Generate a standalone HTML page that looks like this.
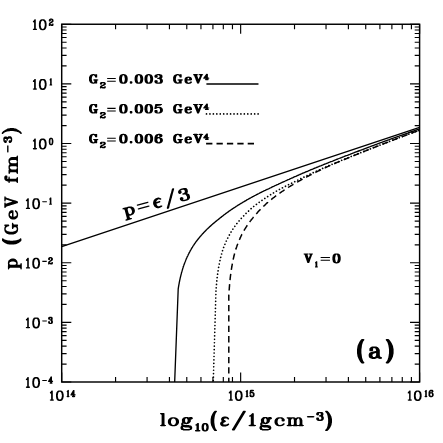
<!DOCTYPE html><html><head><meta charset="utf-8"><title>plot</title><style>html,body{margin:0;padding:0;background:#fff}svg{display:block}</style></head><body>
<svg width="443" height="443" viewBox="0 0 443 443">
<rect width="443" height="443" fill="#fff"/>
<rect x="61.7" y="24.25" width="357.90" height="357.75" fill="none" stroke="#000" stroke-width="1.45"/>
<path d="M61.7 382.00h9.6M419.6 382.00h-9.6M61.7 364.05h4.9M419.6 364.05h-4.9M61.7 353.55h4.9M419.6 353.55h-4.9M61.7 346.10h4.9M419.6 346.10h-4.9M61.7 340.32h4.9M419.6 340.32h-4.9M61.7 335.60h4.9M419.6 335.60h-4.9M61.7 331.61h4.9M419.6 331.61h-4.9M61.7 328.15h4.9M419.6 328.15h-4.9M61.7 325.10h4.9M419.6 325.10h-4.9M61.7 322.38h9.6M419.6 322.38h-9.6M61.7 304.43h4.9M419.6 304.43h-4.9M61.7 293.93h4.9M419.6 293.93h-4.9M61.7 286.48h4.9M419.6 286.48h-4.9M61.7 280.70h4.9M419.6 280.70h-4.9M61.7 275.98h4.9M419.6 275.98h-4.9M61.7 271.99h4.9M419.6 271.99h-4.9M61.7 268.53h4.9M419.6 268.53h-4.9M61.7 265.48h4.9M419.6 265.48h-4.9M61.7 262.75h9.6M419.6 262.75h-9.6M61.7 244.80h4.9M419.6 244.80h-4.9M61.7 234.30h4.9M419.6 234.30h-4.9M61.7 226.85h4.9M419.6 226.85h-4.9M61.7 221.07h4.9M419.6 221.07h-4.9M61.7 216.35h4.9M419.6 216.35h-4.9M61.7 212.36h4.9M419.6 212.36h-4.9M61.7 208.90h4.9M419.6 208.90h-4.9M61.7 205.85h4.9M419.6 205.85h-4.9M61.7 203.12h9.6M419.6 203.12h-9.6M61.7 185.18h4.9M419.6 185.18h-4.9M61.7 174.68h4.9M419.6 174.68h-4.9M61.7 167.23h4.9M419.6 167.23h-4.9M61.7 161.45h4.9M419.6 161.45h-4.9M61.7 156.73h4.9M419.6 156.73h-4.9M61.7 152.74h4.9M419.6 152.74h-4.9M61.7 149.28h4.9M419.6 149.28h-4.9M61.7 146.23h4.9M419.6 146.23h-4.9M61.7 143.50h9.6M419.6 143.50h-9.6M61.7 125.55h4.9M419.6 125.55h-4.9M61.7 115.05h4.9M419.6 115.05h-4.9M61.7 107.60h4.9M419.6 107.60h-4.9M61.7 101.82h4.9M419.6 101.82h-4.9M61.7 97.10h4.9M419.6 97.10h-4.9M61.7 93.11h4.9M419.6 93.11h-4.9M61.7 89.65h4.9M419.6 89.65h-4.9M61.7 86.60h4.9M419.6 86.60h-4.9M61.7 83.88h9.6M419.6 83.88h-9.6M61.7 65.93h4.9M419.6 65.93h-4.9M61.7 55.43h4.9M419.6 55.43h-4.9M61.7 47.98h4.9M419.6 47.98h-4.9M61.7 42.20h4.9M419.6 42.20h-4.9M61.7 37.48h4.9M419.6 37.48h-4.9M61.7 33.49h4.9M419.6 33.49h-4.9M61.7 30.03h4.9M419.6 30.03h-4.9M61.7 26.98h4.9M419.6 26.98h-4.9M61.7 24.25h9.6M419.6 24.25h-9.6M61.70 24.25v9.6M61.70 382.0v-9.6M115.57 24.25v4.9M115.57 382.0v-4.9M147.08 24.25v4.9M147.08 382.0v-4.9M169.44 24.25v4.9M169.44 382.0v-4.9M186.78 24.25v4.9M186.78 382.0v-4.9M200.95 24.25v4.9M200.95 382.0v-4.9M212.93 24.25v4.9M212.93 382.0v-4.9M223.31 24.25v4.9M223.31 382.0v-4.9M232.46 24.25v4.9M232.46 382.0v-4.9M240.65 24.25v9.6M240.65 382.0v-9.6M294.52 24.25v4.9M294.52 382.0v-4.9M326.03 24.25v4.9M326.03 382.0v-4.9M348.39 24.25v4.9M348.39 382.0v-4.9M365.73 24.25v4.9M365.73 382.0v-4.9M379.90 24.25v4.9M379.90 382.0v-4.9M391.88 24.25v4.9M391.88 382.0v-4.9M402.26 24.25v4.9M402.26 382.0v-4.9M411.41 24.25v4.9M411.41 382.0v-4.9M419.60 24.25v9.6M419.60 382.0v-9.6" stroke="#000" stroke-width="1.15" fill="none"/>
<clipPath id="c"><rect x="61.7" y="24.25" width="357.90" height="357.75"/></clipPath>
<g clip-path="url(#c)" fill="none" stroke="#000" stroke-width="1.35" stroke-linejoin="round">
<path d="M61.70 246.54L419.60 127.29"/>
<path d="M174.6 384.0L178.2 289.0L178.3 288.5L178.3 288.4L178.3 288.3L178.3 288.2L178.3 288.1L178.4 288.0L178.4 287.9L178.4 287.7L178.4 287.6L178.4 287.5L178.5 287.3L178.5 287.1L178.5 287.0L178.5 286.8L178.6 286.6L178.6 286.4L178.6 286.2L178.7 286.0L178.7 285.8L178.7 285.6L178.8 285.3L178.8 285.1L178.9 284.9L178.9 284.6L179.0 284.3L179.0 284.1L179.1 283.8L179.1 283.5L179.2 283.2L179.2 282.9L179.3 282.6L179.3 282.3L179.4 282.0L179.5 281.7L179.5 281.3L179.6 281.0L179.7 280.7L179.7 280.3L179.8 279.9L179.9 279.6L180.0 279.2L180.1 278.9L180.1 278.5L180.2 278.1L180.3 277.7L180.4 277.3L180.5 276.9L180.6 276.5L180.7 276.1L180.8 275.7L180.9 275.3L181.0 274.9L181.1 274.5L181.2 274.1L181.3 273.7L181.4 273.2L181.5 272.8L181.6 272.4L181.8 272.0L181.9 271.5L182.0 271.1L182.1 270.6L182.3 270.2L182.4 269.8L182.5 269.3L182.7 268.9L182.8 268.4L182.9 268.0L183.1 267.5L183.2 267.1L183.4 266.6L183.5 266.2L183.7 265.7L183.8 265.3L184.0 264.8L184.2 264.4L184.3 263.9L184.5 263.4L184.7 263.0L184.8 262.5L185.0 262.1L185.2 261.6L185.4 261.2L185.6 260.7L185.7 260.2L185.9 259.8L186.1 259.3L186.3 258.9L186.5 258.4L186.7 257.9L186.9 257.5L187.1 257.0L187.3 256.6L187.6 256.1L187.8 255.7L188.0 255.2L188.2 254.7L188.4 254.3L188.7 253.8L188.9 253.4L189.1 252.9L189.4 252.5L189.6 252.0L189.9 251.6L190.1 251.1L190.3 250.7L190.6 250.2L190.9 249.8L191.1 249.3L191.4 248.9L191.6 248.4L191.9 248.0L192.2 247.5L192.5 247.1L192.7 246.6L193.0 246.2L193.3 245.7L193.6 245.3L193.9 244.8L194.2 244.4L194.5 244.0L194.8 243.5L195.1 243.1L195.4 242.7L195.7 242.2L196.0 241.8L196.3 241.4L196.6 241.0L197.0 240.5L197.3 240.1L197.6 239.7L198.0 239.3L198.3 238.8L198.6 238.4L199.0 238.0L199.3 237.6L199.7 237.2L200.0 236.7L200.4 236.3L200.8 235.9L201.1 235.5L201.5 235.1L201.9 234.6L202.2 234.2L202.6 233.8L203.0 233.4L203.4 233.0L203.8 232.6L204.2 232.1L204.6 231.7L205.0 231.3L205.4 230.9L205.8 230.5L206.2 230.1L206.6 229.7L207.0 229.2L207.5 228.8L207.9 228.4L208.3 228.0L208.8 227.6L209.2 227.2L209.6 226.8L210.1 226.4L210.5 226.0L211.0 225.6L211.4 225.1L211.9 224.7L212.4 224.3L212.8 223.9L213.3 223.5L213.8 223.1L214.3 222.7L214.8 222.3L215.2 221.9L215.7 221.5L216.2 221.1L216.7 220.7L217.2 220.3L217.7 219.9L218.3 219.5L218.8 219.1L219.3 218.6L219.8 218.2L220.3 217.8L220.9 217.4L221.4 216.9L221.9 216.5L222.5 216.1L223.0 215.7L223.6 215.2L224.1 214.8L224.7 214.4L225.3 214.0L225.8 213.5L226.4 213.1L227.0 212.7L227.6 212.3L228.2 211.9L228.7 211.4L229.3 211.0L229.9 210.6L230.5 210.2L231.1 209.8L231.7 209.4L232.4 208.9L233.0 208.5L233.6 208.1L234.2 207.7L234.9 207.3L235.5 206.9L236.1 206.4L236.8 206.0L237.4 205.6L238.1 205.2L238.7 204.8L239.4 204.4L240.0 204.0L240.7 203.6L241.4 203.2L242.1 202.8L242.7 202.4L243.4 202.0L244.1 201.6L244.8 201.2L245.5 200.8L246.2 200.4L246.9 199.9L247.6 199.5L248.4 199.1L249.1 198.7L249.8 198.3L250.5 197.9L251.3 197.5L252.0 197.1L252.7 196.7L253.5 196.3L254.2 195.9L255.0 195.5L255.8 195.1L256.5 194.7L257.3 194.3L258.1 193.9L258.9 193.5L259.6 193.1L260.4 192.7L261.2 192.3L262.0 191.9L262.8 191.5L263.6 191.1L264.4 190.7L265.3 190.3L266.1 189.9L266.9 189.5L267.7 189.2L268.6 188.8L269.4 188.4L270.2 188.0L271.1 187.6L271.9 187.1L272.8 186.7L273.7 186.3L274.5 185.9L275.4 185.5L276.3 185.1L277.2 184.7L278.1 184.3L278.9 183.9L279.8 183.5L280.7 183.1L281.6 182.7L282.6 182.2L283.5 181.8L284.4 181.4L285.3 181.0L286.2 180.5L287.2 180.1L288.1 179.7L289.1 179.3L290.0 178.8L291.0 178.4L291.9 178.0L292.9 177.6L293.8 177.1L294.8 176.7L295.8 176.3L296.8 175.8L297.8 175.4L298.8 175.0L299.8 174.5L300.8 174.1L301.8 173.7L302.8 173.2L303.8 172.8L304.8 172.4L305.8 171.9L306.9 171.5L307.9 171.1L309.0 170.6L310.0 170.2L311.1 169.7L312.1 169.3L313.2 168.9L314.2 168.4L315.3 168.0L316.4 167.5L317.5 167.1L318.6 166.7L319.6 166.2L320.7 165.8L321.8 165.3L323.0 164.9L324.1 164.4L325.2 164.0L326.3 163.5L327.4 163.1L328.6 162.6L329.7 162.2L330.9 161.7L332.0 161.3L333.2 160.8L334.3 160.3L335.5 159.9L336.6 159.4L337.8 159.0L339.0 158.5L340.2 158.0L341.4 157.6L342.6 157.1L343.8 156.7L345.0 156.2L346.2 155.7L347.4 155.3L348.6 154.8L349.9 154.3L351.1 153.8L352.3 153.4L353.6 152.9L354.8 152.4L356.1 151.9L357.3 151.5L358.6 151.0L359.9 150.5L361.1 150.0L362.4 149.6L363.7 149.1L365.0 148.6L366.3 148.1L367.6 147.6L368.9 147.1L370.2 146.7L371.5 146.2L372.8 145.7L374.2 145.2L375.5 144.7L376.9 144.2L378.2 143.7L379.5 143.2L380.9 142.7L382.3 142.2L383.6 141.7L385.0 141.2L386.4 140.7L387.8 140.2L389.2 139.7L390.5 139.2L391.9 138.7L393.4 138.2L394.8 137.7L396.2 137.2L397.6 136.7L399.0 136.2L400.5 135.6L401.9 135.1L403.3 134.6L404.8 134.1L406.2 133.6L407.7 133.1L409.2 132.5L410.6 132.0L412.1 131.5L413.6 131.0L415.1 130.4L416.6 129.9L418.1 129.4L419.6 128.8"/>
<path d="M213.2 384.0L216.0 290.0L216.0 289.4L216.0 289.3L216.1 289.2L216.1 289.1L216.1 288.9L216.1 288.8L216.1 288.6L216.1 288.4L216.1 288.3L216.1 288.1L216.2 287.8L216.2 287.6L216.2 287.4L216.2 287.1L216.2 286.9L216.3 286.6L216.3 286.3L216.3 286.0L216.3 285.7L216.4 285.4L216.4 285.0L216.4 284.7L216.5 284.4L216.5 284.0L216.5 283.6L216.6 283.2L216.6 282.8L216.6 282.4L216.7 282.0L216.7 281.6L216.8 281.2L216.8 280.7L216.9 280.3L216.9 279.8L217.0 279.4L217.0 278.9L217.1 278.4L217.1 277.9L217.2 277.5L217.2 277.0L217.3 276.5L217.4 276.0L217.4 275.5L217.5 274.9L217.6 274.4L217.6 273.9L217.7 273.4L217.8 272.9L217.8 272.3L217.9 271.8L218.0 271.3L218.1 270.7L218.2 270.2L218.3 269.7L218.3 269.1L218.4 268.6L218.5 268.0L218.6 267.5L218.7 266.9L218.8 266.4L218.9 265.9L219.0 265.3L219.1 264.8L219.2 264.2L219.3 263.7L219.4 263.1L219.5 262.6L219.6 262.0L219.8 261.5L219.9 260.9L220.0 260.4L220.1 259.8L220.2 259.3L220.4 258.8L220.5 258.2L220.6 257.7L220.8 257.1L220.9 256.6L221.0 256.1L221.2 255.5L221.3 255.0L221.5 254.5L221.6 253.9L221.7 253.4L221.9 252.9L222.0 252.4L222.2 251.8L222.4 251.3L222.5 250.8L222.7 250.3L222.9 249.8L223.0 249.3L223.2 248.8L223.4 248.3L223.5 247.8L223.7 247.3L223.9 246.9L224.1 246.4L224.3 245.9L224.4 245.4L224.6 244.9L224.8 244.5L225.0 244.0L225.2 243.5L225.4 243.0L225.6 242.6L225.8 242.1L226.0 241.6L226.2 241.2L226.5 240.7L226.7 240.2L226.9 239.8L227.1 239.3L227.3 238.8L227.6 238.4L227.8 237.9L228.0 237.5L228.3 237.0L228.5 236.6L228.7 236.1L229.0 235.7L229.2 235.2L229.5 234.8L229.7 234.3L230.0 233.9L230.2 233.4L230.5 233.0L230.8 232.5L231.0 232.1L231.3 231.7L231.6 231.2L231.8 230.8L232.1 230.3L232.4 229.9L232.7 229.5L233.0 229.0L233.2 228.6L233.5 228.2L233.8 227.8L234.1 227.3L234.4 226.9L234.7 226.5L235.0 226.1L235.3 225.6L235.7 225.2L236.0 224.8L236.3 224.4L236.6 224.0L236.9 223.5L237.3 223.1L237.6 222.7L237.9 222.3L238.3 221.9L238.6 221.5L238.9 221.1L239.3 220.6L239.6 220.2L240.0 219.8L240.3 219.4L240.7 219.0L241.0 218.6L241.4 218.2L241.8 217.8L242.1 217.4L242.5 217.0L242.9 216.6L243.3 216.2L243.7 215.8L244.0 215.4L244.4 215.0L244.8 214.6L245.2 214.2L245.6 213.8L246.0 213.4L246.4 213.0L246.8 212.6L247.2 212.2L247.7 211.8L248.1 211.4L248.5 211.1L248.9 210.7L249.4 210.3L249.8 209.9L250.2 209.5L250.7 209.1L251.1 208.7L251.5 208.3L252.0 208.0L252.4 207.6L252.9 207.2L253.4 206.8L253.8 206.4L254.3 206.0L254.8 205.7L255.2 205.3L255.7 204.9L256.2 204.6L256.7 204.2L257.1 203.8L257.6 203.5L258.1 203.1L258.6 202.8L259.1 202.4L259.6 202.0L260.1 201.7L260.6 201.3L261.2 201.0L261.7 200.6L262.2 200.2L262.7 199.9L263.2 199.5L263.8 199.1L264.3 198.8L264.9 198.4L265.4 198.1L265.9 197.7L266.5 197.3L267.0 197.0L267.6 196.6L268.2 196.3L268.7 195.9L269.3 195.5L269.9 195.2L270.4 194.8L271.0 194.5L271.6 194.1L272.2 193.7L272.8 193.4L273.4 193.0L274.0 192.6L274.6 192.3L275.2 191.9L275.8 191.6L276.4 191.2L277.0 190.8L277.6 190.5L278.2 190.1L278.9 189.7L279.5 189.4L280.1 189.0L280.8 188.7L281.4 188.4L282.1 188.0L282.7 187.7L283.4 187.4L284.0 187.0L284.7 186.7L285.4 186.3L286.0 186.0L286.7 185.7L287.4 185.3L288.1 185.0L288.7 184.6L289.4 184.3L290.1 183.9L290.8 183.6L291.5 183.3L292.2 182.9L292.9 182.6L293.6 182.2L294.3 181.9L295.1 181.5L295.8 181.1L296.5 180.8L297.3 180.4L298.0 180.0L298.7 179.7L299.5 179.3L300.2 178.9L301.0 178.5L301.7 178.2L302.5 177.8L303.2 177.4L304.0 177.1L304.8 176.7L305.6 176.3L306.3 175.9L307.1 175.6L307.9 175.2L308.7 174.8L309.5 174.4L310.3 174.1L311.1 173.7L311.9 173.3L312.7 172.9L313.5 172.5L314.4 172.2L315.2 171.8L316.0 171.4L316.8 171.0L317.7 170.6L318.5 170.3L319.4 169.9L320.2 169.5L321.1 169.1L321.9 168.7L322.8 168.3L323.7 167.9L324.5 167.6L325.4 167.2L326.3 166.8L327.2 166.4L328.0 166.0L328.9 165.6L329.8 165.2L330.7 164.8L331.6 164.5L332.5 164.1L333.5 163.7L334.4 163.3L335.3 162.9L336.2 162.6L337.2 162.2L338.1 161.8L339.0 161.4L340.0 161.0L340.9 160.6L341.9 160.2L342.8 159.8L343.8 159.5L344.7 159.1L345.7 158.7L346.7 158.3L347.7 157.9L348.6 157.5L349.6 157.1L350.6 156.7L351.6 156.3L352.6 155.9L353.6 155.5L354.6 155.1L355.6 154.7L356.7 154.3L357.7 153.9L358.7 153.5L359.7 153.1L360.8 152.6L361.8 152.2L362.9 151.8L363.9 151.4L365.0 151.0L366.0 150.6L367.1 150.2L368.1 149.7L369.2 149.3L370.3 148.9L371.4 148.5L372.5 148.0L373.5 147.6L374.6 147.2L375.7 146.7L376.8 146.3L377.9 145.9L379.1 145.4L380.2 145.0L381.3 144.6L382.4 144.1L383.5 143.7L384.7 143.3L385.8 142.8L387.0 142.4L388.1 141.9L389.3 141.5L390.4 141.0L391.6 140.6L392.7 140.2L393.9 139.7L395.1 139.3L396.3 138.8L397.5 138.4L398.7 137.9L399.8 137.5L401.0 137.0L402.2 136.6L403.5 136.1L404.7 135.7L405.9 135.2L407.1 134.8L408.3 134.3L409.6 133.8L410.8 133.4L412.1 132.9L413.3 132.5L414.5 132.0L415.8 131.5L417.1 131.1L418.3 130.6L419.6 130.1" stroke-width="1.7" stroke-linecap="round" stroke-dasharray="0.01 3.43"/>
<path d="M228.8 384.0L228.8 295.0L228.9 294.4L228.9 294.3L228.9 294.2L228.9 294.1L228.9 293.9L228.9 293.8L228.9 293.6L228.9 293.4L229.0 293.2L229.0 293.0L229.0 292.7L229.0 292.5L229.0 292.2L229.0 292.0L229.1 291.7L229.1 291.4L229.1 291.0L229.1 290.7L229.1 290.4L229.2 290.0L229.2 289.6L229.2 289.3L229.3 288.9L229.3 288.5L229.3 288.0L229.3 287.6L229.4 287.2L229.4 286.7L229.5 286.3L229.5 285.8L229.5 285.3L229.6 284.8L229.6 284.4L229.7 283.9L229.7 283.3L229.8 282.8L229.8 282.3L229.9 281.8L229.9 281.3L230.0 280.7L230.0 280.2L230.1 279.6L230.1 279.1L230.2 278.5L230.2 278.0L230.3 277.4L230.4 276.8L230.4 276.3L230.5 275.7L230.6 275.1L230.7 274.5L230.7 274.0L230.8 273.4L230.9 272.8L231.0 272.2L231.0 271.6L231.1 271.0L231.2 270.5L231.3 269.9L231.4 269.3L231.5 268.7L231.6 268.1L231.7 267.5L231.8 267.0L231.9 266.4L232.0 265.8L232.1 265.2L232.2 264.6L232.3 264.1L232.4 263.5L232.5 262.9L232.6 262.3L232.7 261.8L232.8 261.2L232.9 260.6L233.1 260.1L233.2 259.5L233.3 258.9L233.4 258.4L233.6 257.8L233.7 257.2L233.8 256.7L234.0 256.1L234.1 255.6L234.2 255.0L234.4 254.5L234.5 253.9L234.7 253.4L234.8 252.8L235.0 252.3L235.1 251.8L235.3 251.2L235.4 250.7L235.6 250.2L235.7 249.6L235.9 249.1L236.1 248.6L236.2 248.1L236.4 247.6L236.6 247.0L236.8 246.5L236.9 246.0L237.1 245.5L237.3 245.0L237.5 244.5L237.7 244.0L237.9 243.5L238.1 243.0L238.3 242.5L238.5 242.0L238.6 241.5L238.9 241.0L239.1 240.5L239.3 240.0L239.5 239.5L239.7 239.1L239.9 238.6L240.1 238.1L240.3 237.6L240.6 237.1L240.8 236.7L241.0 236.2L241.2 235.7L241.5 235.3L241.7 234.8L241.9 234.3L242.2 233.9L242.4 233.4L242.7 232.9L242.9 232.5L243.2 232.0L243.4 231.6L243.7 231.1L243.9 230.7L244.2 230.2L244.5 229.8L244.7 229.3L245.0 228.9L245.3 228.4L245.6 228.0L245.8 227.5L246.1 227.1L246.4 226.7L246.7 226.2L247.0 225.8L247.3 225.3L247.6 224.9L247.9 224.5L248.2 224.0L248.5 223.6L248.8 223.2L249.1 222.8L249.4 222.3L249.7 221.9L250.0 221.5L250.3 221.1L250.7 220.6L251.0 220.2L251.3 219.8L251.6 219.4L252.0 219.0L252.3 218.6L252.7 218.1L253.0 217.7L253.3 217.3L253.7 216.9L254.0 216.5L254.4 216.1L254.8 215.7L255.1 215.3L255.5 214.8L255.9 214.4L256.2 213.9L256.6 213.5L257.0 213.1L257.4 212.7L257.7 212.2L258.1 211.8L258.5 211.4L258.9 210.9L259.3 210.5L259.7 210.1L260.1 209.7L260.5 209.3L260.9 208.9L261.3 208.4L261.7 208.0L262.2 207.6L262.6 207.2L263.0 206.8L263.4 206.4L263.8 206.0L264.3 205.6L264.7 205.2L265.2 204.8L265.6 204.4L266.0 203.9L266.5 203.5L266.9 203.1L267.4 202.7L267.9 202.4L268.3 202.0L268.8 201.6L269.3 201.2L269.7 200.8L270.2 200.4L270.7 200.0L271.2 199.6L271.6 199.2L272.1 198.8L272.6 198.4L273.1 198.0L273.6 197.6L274.1 197.3L274.6 196.9L275.1 196.5L275.6 196.1L276.2 195.7L276.7 195.3L277.2 194.9L277.7 194.6L278.2 194.2L278.8 193.8L279.3 193.4L279.9 193.0L280.4 192.7L280.9 192.3L281.5 191.9L282.0 191.5L282.6 191.1L283.2 190.8L283.7 190.4L284.3 190.0L284.9 189.6L285.4 189.3L286.0 188.9L286.6 188.5L287.2 188.1L287.8 187.8L288.3 187.4L288.9 187.0L289.5 186.6L290.1 186.3L290.7 185.9L291.4 185.5L292.0 185.2L292.6 184.8L293.2 184.4L293.8 184.1L294.5 183.7L295.1 183.3L295.7 183.0L296.4 182.6L297.0 182.2L297.6 181.9L298.3 181.5L298.9 181.1L299.6 180.8L300.3 180.4L300.9 180.0L301.6 179.6L302.3 179.3L302.9 178.9L303.6 178.5L304.3 178.2L305.0 177.8L305.7 177.4L306.4 177.1L307.1 176.7L307.8 176.3L308.5 176.0L309.2 175.6L309.9 175.2L310.6 174.9L311.3 174.5L312.0 174.1L312.8 173.8L313.5 173.4L314.2 173.0L315.0 172.7L315.7 172.3L316.4 171.9L317.2 171.6L317.9 171.2L318.7 170.8L319.5 170.5L320.2 170.1L321.0 169.7L321.8 169.3L322.5 169.0L323.3 168.6L324.1 168.2L324.9 167.9L325.7 167.5L326.5 167.1L327.3 166.7L328.1 166.4L328.9 166.0L329.7 165.6L330.5 165.3L331.3 164.9L332.2 164.6L333.0 164.2L333.8 163.9L334.7 163.5L335.5 163.2L336.3 162.8L337.2 162.4L338.0 162.1L338.9 161.7L339.8 161.4L340.6 161.0L341.5 160.6L342.4 160.3L343.2 159.9L344.1 159.6L345.0 159.2L345.9 158.8L346.8 158.5L347.7 158.1L348.6 157.7L349.5 157.4L350.4 157.0L351.3 156.6L352.2 156.2L353.1 155.9L354.1 155.5L355.0 155.1L355.9 154.7L356.8 154.4L357.8 154.0L358.7 153.6L359.7 153.2L360.6 152.8L361.6 152.5L362.6 152.1L363.5 151.7L364.5 151.3L365.5 150.9L366.4 150.5L367.4 150.1L368.4 149.7L369.4 149.3L370.4 149.0L371.4 148.6L372.4 148.2L373.4 147.8L374.4 147.4L375.4 147.0L376.4 146.5L377.5 146.1L378.5 145.7L379.5 145.3L380.6 144.9L381.6 144.5L382.7 144.1L383.7 143.7L384.8 143.3L385.8 142.9L386.9 142.5L388.0 142.1L389.0 141.7L390.1 141.2L391.2 140.8L392.3 140.4L393.4 140.0L394.4 139.6L395.5 139.2L396.6 138.7L397.7 138.3L398.9 137.9L400.0 137.5L401.1 137.1L402.2 136.6L403.3 136.2L404.5 135.8L405.6 135.4L406.8 134.9L407.9 134.5L409.1 134.1L410.2 133.6L411.4 133.2L412.5 132.8L413.7 132.3L414.9 131.9L416.0 131.5L417.2 131.0L418.4 130.6L419.6 130.2" stroke-width="1.5" stroke-dasharray="6.3 4.1"/>
</g>
<path d="M206.9 84H258" stroke="#000" stroke-width="1.4" stroke-linecap="round"/>
<path d="M206.5 113.9H258.5" stroke="#000" stroke-width="1.7" stroke-linecap="round" stroke-dasharray="0.01 3.43"/>
<path d="M206.1 143.6H254.2" stroke="#000" stroke-width="1.55" stroke-dasharray="6.3 4.1"/>
<path d="M91 74.5 89.8 75.5 89.7 76.0 89.5 76.2 89 77.3 89 80.5 89.5 81.6 89.7 81.8 89.8 82.3 91 83.3 92 83.6 92.5 83.6 92.5 83.7 94.2 83.7 94.3 83.6 94.8 83.6 95.2 83.4 95.5 83.6 96 83.6 96 83.7 96.2 83.6 96.8 83.6 97 83.4 97.2 83.2 97.2 80.8 97.3 80.5 98 80.4 98.2 80.2 98.3 80.0 98.2 79.6 98 79.4 97.5 79.4 97.3 79.3 94 79.3 94 79.4 93.5 79.4 93.2 79.6 93.2 80.2 93.5 80.4 93.8 80.4 94.2 80.6 94.3 81.0 94.3 82.0 93.7 82.5 93.2 82.5 92.5 81.9 92.2 81.3 92.2 81.0 91.8 79.8 91.8 78.0 92.2 76.8 92.2 76.5 92.5 75.9 93.2 75.3 93.7 75.3 94 75.5 94.8 76.3 95.2 77.4 95.5 77.6 96 77.6 96.2 77.7 96.2 77.6 96.8 77.6 97 77.4 97.2 77.2 97.2 74.6 97 74.4 96.8 74.2 96.2 74.2 96.2 74.1 96 74.2 95.5 74.2 95.2 74.4 94.8 74.2 94.3 74.2 94.2 74.1 92.5 74.1 92.5 74.2 92 74.2ZM100.6 82.3 99.9 83.1 99.9 84.2 100.3 84.5 101.2 84.7 101.3 84.6 101.6 84.6 102.1 84.3 102.4 84.0 102.4 83.4 102.2 83.2 102.3 83.1 103.3 83.1 103.6 83.6 103.6 83.9 103.4 84.2 102.8 84.7 100.9 85.5 100.1 86.2 100.1 86.4 99.9 86.7 99.9 88.3 100.6 88.6 101.2 88.4 101.4 88.1 101.6 88.0 102.5 88.5 102.8 88.5 102.9 88.6 104.5 88.6 105.1 88.4 105.8 87.6 105.8 86.5 105.4 86.2 104.6 86.2 104.3 86.4 104.3 86.8 104 87.0 102.2 86.8 101.8 86.6 102.4 86.2 104.1 85.7 105.2 85.1 105.8 84.4 105.8 83.2 105.7 83.0 105 82.3 104.2 82.0 101.4 82.0ZM107.1 80.9 107.1 81.5 107.3 81.7 107.7 81.7 107.8 81.8 115.1 81.8 115.2 81.7 115.6 81.7 115.8 81.5 115.8 80.9 115.6 80.7 107.3 80.7ZM107.1 78.2 107.1 78.8 107.3 79.0 107.7 79.0 107.8 79.1 115.1 79.1 115.2 79.0 115.6 79.0 115.8 78.8 115.8 78.2 115.6 78.0 107.3 78.0ZM120.9 74.5 120.1 75.2 119.5 76.0 119.5 76.3 119.2 77.2 119.2 77.6 119.1 77.7 119.1 80.2 119.2 80.3 119.2 80.7 119.3 80.8 119.5 81.9 120.6 83.2 120.9 83.4 121.5 83.5 121.9 83.7 122.4 83.7 122.5 83.8 124.2 83.8 124.3 83.7 124.8 83.7 125.2 83.5 125.8 83.4 126.6 82.7 127.2 81.9 127.6 80.5 127.6 80.1 127.7 80.0 127.7 77.9 127.6 77.8 127.6 77.4 127.2 76.0 126.1 74.7 125.8 74.5 125.2 74.4 124.8 74.2 124.3 74.2 124.2 74.1 122.5 74.1 122.4 74.2 121.9 74.2 121.5 74.4ZM123.2 75.3 123.5 75.3 123.9 75.5 124.3 76.1 124.7 77.9 124.8 78.0 124.8 79.9 124.4 81.2 124.4 81.6 124 82.3 123.5 82.6 123.2 82.6 122.7 82.3 122.4 81.8 122.4 81.4 122 80.1 122 77.8 122.4 76.5 122.4 76.1 122.7 75.6ZM130.2 81.3 129.8 81.7 129.8 83.2 130.2 83.6 130.8 83.8 131.3 83.8 131.9 83.6 132.4 83.0 132.4 81.9 132.3 81.7 131.7 81.2 130.4 81.2ZM136.4 74.5 135.6 75.2 135 76.0 135 76.3 134.7 77.2 134.7 77.6 134.6 77.7 134.6 80.2 134.7 80.3 134.7 80.7 134.8 80.8 135 81.9 136.1 83.2 136.4 83.4 137 83.5 137.4 83.7 137.9 83.7 138 83.8 139.7 83.8 139.8 83.7 140.3 83.7 140.7 83.5 141.3 83.4 142.1 82.7 142.7 81.9 143.1 80.5 143.1 80.1 143.2 80.0 143.2 77.9 143.1 77.8 143.1 77.4 142.7 76.0 141.6 74.7 141.3 74.5 140.7 74.4 140.3 74.2 139.8 74.2 139.7 74.1 138 74.1 137.9 74.2 137.4 74.2 137 74.4ZM138.7 75.3 139 75.3 139.4 75.5 139.8 76.1 140.2 77.9 140.3 78.0 140.3 79.9 139.9 81.2 139.9 81.6 139.5 82.3 139 82.6 138.7 82.6 138.2 82.3 137.9 81.8 137.9 81.4 137.5 80.1 137.5 77.8 137.9 76.5 137.9 76.1 138.2 75.6ZM146.3 74.5 145.5 75.2 144.9 76.0 144.9 76.3 144.6 77.2 144.6 77.6 144.5 77.7 144.5 80.2 144.6 80.3 144.6 80.7 144.7 80.8 144.9 81.9 146 83.2 146.3 83.4 146.9 83.5 147.3 83.7 147.8 83.7 147.9 83.8 149.6 83.8 149.7 83.7 150.2 83.7 150.6 83.5 151.2 83.4 152 82.7 152.6 81.9 153 80.5 153 80.1 153.1 80.0 153.1 77.9 153 77.8 153 77.4 152.6 76.0 151.5 74.7 151.2 74.5 150.6 74.4 150.2 74.2 149.7 74.2 149.6 74.1 147.9 74.1 147.8 74.2 147.3 74.2 146.9 74.4ZM148.6 75.3 148.9 75.3 149.3 75.5 149.7 76.1 150.1 77.9 150.2 78.0 150.2 79.9 149.8 81.2 149.8 81.6 149.4 82.3 148.9 82.6 148.6 82.6 148.1 82.3 147.8 81.8 147.8 81.4 147.4 80.1 147.4 77.8 147.8 76.5 147.8 76.1 148.1 75.6ZM155.1 74.9 154.7 75.3 154.4 75.9 154.4 77.1 155.2 77.7 155.7 77.7 155.8 77.8 156.8 77.7 157.6 77.1 157.7 76.9 157.7 76.1 157.6 75.9 157.2 75.6 157.3 75.5 157.9 75.3 158.7 75.3 159.2 75.6 159.6 76.3 159.6 76.7 159.3 77.3 158.8 77.7 157.5 77.8 157.2 78.0 157.2 78.7 157.5 78.9 158.8 79.0 159.4 79.3 159.6 79.5 160 80.6 160 81.4 159.7 82.0 159.7 82.2 159.2 82.6 157.9 82.6 157.2 82.3 157.6 82.0 157.7 81.8 157.7 81.0 157.4 80.6 156.8 80.2 156.3 80.2 156.2 80.1 155.2 80.2 154.4 80.8 154.4 82.0 154.7 82.6 155.7 83.4 156.3 83.5 156.7 83.7 157.2 83.7 157.3 83.8 159.9 83.8 160 83.7 160.5 83.7 160.9 83.5 161.5 83.4 162.1 83.0 162.5 82.6 162.9 81.8 162.9 80.1 162.4 79.2 161.6 78.6 162.1 78.0 162.5 77.2 162.5 75.8 162 74.9 161.5 74.5 160.9 74.4 160.5 74.2 160 74.2 159.9 74.1 157.3 74.1 157.2 74.2 156.7 74.2 156.3 74.4 155.7 74.5ZM174.9 74.7 173.9 75.6 173.1 77.3 173.1 80.5 173.9 82.2 175.2 83.3 175.8 83.4 176.2 83.6 176.7 83.6 176.8 83.7 178.6 83.7 178.7 83.6 179.2 83.6 179.6 83.4 179.8 83.4 180 83.6 180.5 83.6 180.7 83.7 180.8 83.6 181.3 83.6 181.6 83.4 181.7 83.2 181.7 80.8 182 80.5 182.6 80.4 182.9 80.2 183 79.8 182.9 79.6 182.6 79.4 182.1 79.4 182 79.3 178.4 79.3 178.3 79.4 177.8 79.4 177.5 79.6 177.5 80.2 177.8 80.4 178.5 80.5 178.8 80.9 178.8 82.0 178.1 82.5 177.5 82.5 176.9 82.1 176.3 81.3 176.3 81.0 175.9 79.9 175.9 77.9 176.1 77.5 176.3 76.5 177.1 75.5 177.5 75.3 178.1 75.3 178.5 75.5 179.3 76.2 179.7 77.4 180 77.6 180.5 77.6 180.6 77.7 180.8 77.6 181.3 77.6 181.6 77.4 181.7 77.2 181.7 74.6 181.6 74.4 181.3 74.2 180.8 74.2 180.7 74.1 180.5 74.2 180 74.2 179.8 74.4 179.2 74.2 178.7 74.2 178.6 74.1 176.8 74.1 176.7 74.2 176.2 74.2 175.8 74.4 175.5 74.4ZM185.7 77.3 184.8 78.3 184.5 79.2 184.5 81.3 184.8 82.2 185.7 83.2 186.2 83.5 187.1 83.8 189.1 83.9 189.2 83.8 189.7 83.8 190.8 83.4 191.9 82.4 192 82.2 191.9 81.7 191.6 81.5 191.1 81.5 191 81.4 190.9 81.5 190.4 81.5 189.4 82.4 188.4 82.7 187.7 82.2 187.3 81.1 187.3 80.5 187.4 80.4 191 80.4 191.1 80.3 191.6 80.3 191.9 80.1 192 79.9 192 78.7 191.5 77.7 191.1 77.3 190.6 77.0 189.7 76.7 189.2 76.7 189.1 76.6 187.1 76.7 186.2 77.0ZM187.4 79.1 187.7 78.3 188.4 77.8 188.9 78.1 189.2 78.8 189.2 79.1 189.1 79.2 187.5 79.2ZM193.3 74.2 193 74.4 193 75.0 193.3 75.2 193.8 75.3 194.3 76.0 194.4 76.5 194.8 77.3 194.9 77.8 195.3 78.6 195.4 79.1 195.6 79.4 195.7 79.9 195.9 80.2 195.9 80.4 196.1 80.7 197.1 83.4 197.4 83.6 197.9 83.6 198 83.7 198.2 83.6 198.7 83.6 199 83.4 199.3 82.8 199.3 82.6 199.8 81.6 199.8 81.4 200 81.1 200 80.9 200.2 80.6 200.2 80.4 200.4 80.1 200.4 79.9 200.6 79.6 200.6 79.4 200.8 79.1 200.8 78.9 201 78.6 201 78.4 201.2 78.1 202.2 75.4 203.1 75.0 203.2 74.8 203.1 74.4 202.8 74.2 202.3 74.2 202.2 74.1 199.4 74.1 199.3 74.2 198.8 74.2 198.5 74.4 198.5 75.0 198.8 75.2 200 75.3 200.1 75.4 198.8 78.5 198.7 78.9 198.5 79.0 197.9 77.6 197.6 76.6 197.4 76.3 197.3 75.8 197.1 75.5 197.3 75.2 197.7 75.2 198 75.0 198.1 74.8 198 74.4 197.7 74.2 197.2 74.2 197.1 74.1 193.9 74.1 193.8 74.2ZM207.1 73.7 206.6 73.8 206.2 74.1 203.2 77.9 203.2 78.4 203.6 78.7 203.9 78.7 204 78.8 205.6 78.8 205.7 79.0 204.9 79.5 204.9 79.9 205.1 80.1 205.7 80.3 208 80.3 208.6 80.1 208.8 79.9 208.8 79.5 208.4 79.2 208.1 79.2 207.9 78.9 208 78.8 208.9 78.7 209.3 78.4 209.3 78.0 209.1 77.8 208.5 77.6 208 77.6 207.9 77.5 207.9 74.1 207.7 73.9ZM205.5 77.5 205.6 77.4 205.7 77.5 205.6 77.6ZM91 104.3 89.8 105.3 89.7 105.8 89.5 106.0 89 107.1 89 110.3 89.5 111.4 89.7 111.6 89.8 112.1 91 113.1 92 113.4 92.5 113.4 92.5 113.5 94.2 113.5 94.3 113.4 94.8 113.4 95.2 113.2 95.5 113.4 96 113.4 96 113.5 96.2 113.4 96.8 113.4 97 113.2 97.2 113.0 97.2 110.6 97.3 110.3 98 110.2 98.2 110.0 98.3 109.8 98.2 109.4 98 109.2 97.5 109.2 97.3 109.1 94 109.1 94 109.2 93.5 109.2 93.2 109.4 93.2 110.0 93.5 110.2 93.8 110.2 94.2 110.4 94.3 110.8 94.3 111.8 93.7 112.3 93.2 112.3 92.5 111.7 92.2 111.1 92.2 110.8 91.8 109.6 91.8 107.8 92.2 106.6 92.2 106.3 92.5 105.7 93.2 105.1 93.7 105.1 94 105.3 94.8 106.1 95.2 107.2 95.5 107.4 96 107.4 96.2 107.5 96.2 107.4 96.8 107.4 97 107.2 97.2 107.0 97.2 104.4 97 104.2 96.8 104.0 96.2 104.0 96.2 103.9 96 104.0 95.5 104.0 95.2 104.2 94.8 104.0 94.3 104.0 94.2 103.9 92.5 103.9 92.5 104.0 92 104.0ZM100.6 112.2 99.9 113.0 99.9 114.1 100.3 114.4 101.2 114.6 101.3 114.5 101.6 114.5 102.1 114.2 102.4 113.9 102.4 113.3 102.2 113.1 102.3 113.0 103.3 113.0 103.6 113.5 103.6 113.8 103.4 114.1 102.8 114.6 100.9 115.4 100.1 116.1 100.1 116.3 99.9 116.6 99.9 118.2 100.6 118.5 101.2 118.3 101.4 118.0 101.6 117.9 102.5 118.4 102.8 118.4 102.9 118.5 104.5 118.5 105.1 118.3 105.8 117.5 105.8 116.4 105.4 116.1 104.6 116.1 104.3 116.3 104.3 116.7 104 116.9 102.2 116.7 101.8 116.5 102.4 116.1 104.1 115.6 105.2 115.0 105.8 114.3 105.8 113.1 105.7 112.9 105 112.2 104.2 111.9 101.4 111.9ZM107.1 110.7 107.1 111.3 107.3 111.5 107.7 111.5 107.8 111.6 115.1 111.6 115.2 111.5 115.6 111.5 115.8 111.3 115.8 110.7 115.6 110.5 107.3 110.5ZM107.1 108.0 107.1 108.6 107.3 108.8 107.7 108.8 107.8 108.9 115.1 108.9 115.2 108.8 115.6 108.8 115.8 108.6 115.8 108.0 115.6 107.8 107.3 107.8ZM120.9 104.3 120.1 105.0 119.5 105.8 119.5 106.1 119.2 107.0 119.2 107.4 119.1 107.5 119.1 110.0 119.2 110.1 119.2 110.5 119.3 110.6 119.5 111.7 120.6 113.0 120.9 113.2 121.5 113.3 121.9 113.5 122.4 113.5 122.5 113.6 124.2 113.6 124.3 113.5 124.8 113.5 125.2 113.3 125.8 113.2 126.6 112.5 127.2 111.7 127.6 110.3 127.6 109.9 127.7 109.8 127.7 107.7 127.6 107.6 127.6 107.2 127.2 105.8 126.1 104.5 125.8 104.3 125.2 104.2 124.8 104.0 124.3 104.0 124.2 103.9 122.5 103.9 122.4 104.0 121.9 104.0 121.5 104.2ZM123.2 105.1 123.5 105.1 123.9 105.3 124.3 105.9 124.7 107.7 124.8 107.8 124.8 109.7 124.4 111.0 124.4 111.4 124 112.1 123.5 112.4 123.2 112.4 122.7 112.1 122.4 111.6 122.4 111.2 122 109.9 122 107.6 122.4 106.3 122.4 105.9 122.7 105.4ZM130.2 111.1 129.8 111.5 129.8 113.0 130.2 113.4 130.8 113.6 131.3 113.6 131.9 113.4 132.4 112.8 132.4 111.7 132.3 111.5 131.7 111.0 130.4 111.0ZM136.4 104.3 135.6 105.0 135 105.8 135 106.1 134.7 107.0 134.7 107.4 134.6 107.5 134.6 110.0 134.7 110.1 134.7 110.5 134.8 110.6 135 111.7 136.1 113.0 136.4 113.2 137 113.3 137.4 113.5 137.9 113.5 138 113.6 139.7 113.6 139.8 113.5 140.3 113.5 140.7 113.3 141.3 113.2 142.1 112.5 142.7 111.7 143.1 110.3 143.1 109.9 143.2 109.8 143.2 107.7 143.1 107.6 143.1 107.2 142.7 105.8 141.6 104.5 141.3 104.3 140.7 104.2 140.3 104.0 139.8 104.0 139.7 103.9 138 103.9 137.9 104.0 137.4 104.0 137 104.2ZM138.7 105.1 139 105.1 139.4 105.3 139.8 105.9 140.2 107.7 140.3 107.8 140.3 109.7 139.9 111.0 139.9 111.4 139.5 112.1 139 112.4 138.7 112.4 138.2 112.1 137.9 111.6 137.9 111.2 137.5 109.9 137.5 107.6 137.9 106.3 137.9 105.9 138.2 105.4ZM146.3 104.3 145.5 105.0 144.9 105.8 144.9 106.1 144.6 107.0 144.6 107.4 144.5 107.5 144.5 110.0 144.6 110.1 144.6 110.5 144.7 110.6 144.9 111.7 146 113.0 146.3 113.2 146.9 113.3 147.3 113.5 147.8 113.5 147.9 113.6 149.6 113.6 149.7 113.5 150.2 113.5 150.6 113.3 151.2 113.2 152 112.5 152.6 111.7 153 110.3 153 109.9 153.1 109.8 153.1 107.7 153 107.6 153 107.2 152.6 105.8 151.5 104.5 151.2 104.3 150.6 104.2 150.2 104.0 149.7 104.0 149.6 103.9 147.9 103.9 147.8 104.0 147.3 104.0 146.9 104.2ZM148.6 105.1 148.9 105.1 149.3 105.3 149.7 105.9 150.1 107.7 150.2 107.8 150.2 109.7 149.8 111.0 149.8 111.4 149.4 112.1 148.9 112.4 148.6 112.4 148.1 112.1 147.8 111.6 147.8 111.2 147.4 109.9 147.4 107.6 147.8 106.3 147.8 105.9 148.1 105.4ZM155.6 104.0 155.3 104.2 155.1 104.8 155.1 105.2 155 105.3 154.8 106.5 154.4 107.9 154.4 108.9 154.7 109.1 155.2 109.1 155.3 109.2 155.4 109.1 155.9 109.1 157 108.2 157.6 108.1 157.7 108.0 158.8 108.0 159.1 108.1 159.6 108.5 159.6 108.7 160 109.5 160 110.8 159.6 111.8 159.2 112.2 159 112.2 158.7 112.4 157.9 112.4 157.2 112.1 157.6 111.8 157.7 111.6 157.7 110.8 157.4 110.4 156.8 110.0 156.3 110.0 156.2 109.9 155.2 110.0 154.4 110.6 154.4 111.8 154.7 112.4 155.7 113.2 156.3 113.3 156.7 113.5 157.2 113.5 157.3 113.6 159.4 113.6 161.2 113.1 162.4 112.1 162.9 110.9 162.9 109.4 162.4 108.2 160.9 107.1 160.6 107.1 159.8 106.8 159.3 106.8 159.2 106.7 157.5 106.7 157.4 106.8 156.9 106.8 156.8 106.5 157 105.9 159 105.8 159.1 105.7 160.8 105.4 161.3 105.1 161.5 105.1 161.8 104.9 162 104.6 161.9 104.2 161.6 104.0 161.1 104.0 161 103.9 156.2 103.9 156.1 104.0ZM174.9 104.5 173.9 105.4 173.1 107.1 173.1 110.3 173.9 112.0 175.2 113.1 175.8 113.2 176.2 113.4 176.7 113.4 176.8 113.5 178.6 113.5 178.7 113.4 179.2 113.4 179.6 113.2 179.8 113.2 180 113.4 180.5 113.4 180.7 113.5 180.8 113.4 181.3 113.4 181.6 113.2 181.7 113.0 181.7 110.6 182 110.3 182.6 110.2 182.9 110.0 183 109.6 182.9 109.4 182.6 109.2 182.1 109.2 182 109.1 178.4 109.1 178.3 109.2 177.8 109.2 177.5 109.4 177.5 110.0 177.8 110.2 178.5 110.3 178.8 110.7 178.8 111.8 178.1 112.3 177.5 112.3 176.9 111.9 176.3 111.1 176.3 110.8 175.9 109.7 175.9 107.7 176.1 107.3 176.3 106.3 177.1 105.3 177.5 105.1 178.1 105.1 178.5 105.3 179.3 106.0 179.7 107.2 180 107.4 180.5 107.4 180.6 107.5 180.8 107.4 181.3 107.4 181.6 107.2 181.7 107.0 181.7 104.4 181.6 104.2 181.3 104.0 180.8 104.0 180.7 103.9 180.5 104.0 180 104.0 179.8 104.2 179.2 104.0 178.7 104.0 178.6 103.9 176.8 103.9 176.7 104.0 176.2 104.0 175.8 104.2 175.5 104.2ZM185.7 107.1 184.8 108.1 184.5 109.0 184.5 111.1 184.8 112.0 185.7 113.0 186.2 113.3 187.1 113.6 189.1 113.7 189.2 113.6 189.7 113.6 190.8 113.2 191.9 112.2 192 112.0 191.9 111.5 191.6 111.3 191.1 111.3 191 111.2 190.9 111.3 190.4 111.3 189.4 112.2 188.4 112.5 187.7 112.0 187.3 110.9 187.3 110.3 187.4 110.2 191 110.2 191.1 110.1 191.6 110.1 191.9 109.9 192 109.7 192 108.5 191.5 107.5 191.1 107.1 190.6 106.8 189.7 106.5 189.2 106.5 189.1 106.4 187.1 106.5 186.2 106.8ZM187.4 108.9 187.7 108.1 188.4 107.6 188.9 107.9 189.2 108.6 189.2 108.9 189.1 109.0 187.5 109.0ZM193.3 104.0 193 104.2 193 104.8 193.3 105.0 193.8 105.1 194.3 105.8 194.4 106.3 194.8 107.1 194.9 107.6 195.3 108.4 195.4 108.9 195.6 109.2 195.7 109.7 195.9 110.0 195.9 110.2 196.1 110.5 197.1 113.2 197.4 113.4 197.9 113.4 198 113.5 198.2 113.4 198.7 113.4 199 113.2 199.3 112.6 199.3 112.4 199.8 111.4 199.8 111.2 200 110.9 200 110.7 200.2 110.4 200.2 110.2 200.4 109.9 200.4 109.7 200.6 109.4 200.6 109.2 200.8 108.9 200.8 108.7 201 108.4 201 108.2 201.2 107.9 202.2 105.2 203.1 104.8 203.2 104.6 203.1 104.2 202.8 104.0 202.3 104.0 202.2 103.9 199.4 103.9 199.3 104.0 198.8 104.0 198.5 104.2 198.5 104.8 198.8 105.0 200 105.1 200.1 105.2 198.8 108.3 198.7 108.7 198.5 108.8 197.9 107.4 197.6 106.4 197.4 106.1 197.3 105.6 197.1 105.3 197.3 105.0 197.7 105.0 198 104.8 198.1 104.6 198 104.2 197.7 104.0 197.2 104.0 197.1 103.9 193.9 103.9 193.8 104.0ZM207.1 103.5 206.6 103.6 206.2 103.9 203.2 107.7 203.2 108.2 203.6 108.5 203.9 108.5 204 108.6 205.6 108.6 205.7 108.8 204.9 109.3 204.9 109.7 205.1 109.9 205.7 110.1 208 110.1 208.6 109.9 208.8 109.7 208.8 109.3 208.4 109.0 208.1 109.0 207.9 108.7 208 108.6 208.9 108.5 209.3 108.2 209.3 107.8 209.1 107.6 208.5 107.4 208 107.4 207.9 107.3 207.9 103.9 207.7 103.7ZM205.5 107.3 205.6 107.2 205.7 107.3 205.6 107.4ZM91 134.2 89.8 135.2 89.7 135.7 89.5 135.9 89 137.0 89 140.2 89.5 141.3 89.7 141.5 89.8 142.0 91 143.0 92 143.3 92.5 143.3 92.5 143.4 94.2 143.4 94.3 143.3 94.8 143.3 95.2 143.1 95.5 143.3 96 143.3 96 143.4 96.2 143.3 96.8 143.3 97 143.1 97.2 142.9 97.2 140.5 97.3 140.2 98 140.1 98.2 139.9 98.3 139.7 98.2 139.3 98 139.1 97.5 139.1 97.3 139.0 94 139.0 94 139.1 93.5 139.1 93.2 139.3 93.2 139.9 93.5 140.1 93.8 140.1 94.2 140.3 94.3 140.7 94.3 141.7 93.7 142.2 93.2 142.2 92.5 141.6 92.2 141.0 92.2 140.7 91.8 139.5 91.8 137.7 92.2 136.5 92.2 136.2 92.5 135.6 93.2 135.0 93.7 135.0 94 135.2 94.8 136.0 95.2 137.1 95.5 137.3 96 137.3 96.2 137.4 96.2 137.3 96.8 137.3 97 137.1 97.2 136.9 97.2 134.3 97 134.1 96.8 133.9 96.2 133.9 96.2 133.8 96 133.9 95.5 133.9 95.2 134.1 94.8 133.9 94.3 133.9 94.2 133.8 92.5 133.8 92.5 133.9 92 133.9ZM100.6 142.0 99.9 142.8 99.9 143.9 100.3 144.2 101.2 144.4 101.3 144.3 101.6 144.3 102.1 144.0 102.4 143.7 102.4 143.1 102.2 142.9 102.3 142.8 103.3 142.8 103.6 143.3 103.6 143.6 103.4 143.9 102.8 144.4 100.9 145.2 100.1 145.9 100.1 146.1 99.9 146.4 99.9 148.0 100.6 148.3 101.2 148.1 101.4 147.8 101.6 147.7 102.5 148.2 102.8 148.2 102.9 148.3 104.5 148.3 105.1 148.1 105.8 147.3 105.8 146.2 105.4 145.9 104.6 145.9 104.3 146.1 104.3 146.5 104 146.7 102.2 146.5 101.8 146.3 102.4 145.9 104.1 145.4 105.2 144.8 105.8 144.1 105.8 142.9 105.7 142.7 105 142.0 104.2 141.7 101.4 141.7ZM107.1 140.6 107.1 141.2 107.3 141.4 107.7 141.4 107.8 141.5 115.1 141.5 115.2 141.4 115.6 141.4 115.8 141.2 115.8 140.6 115.6 140.4 107.3 140.4ZM107.1 137.9 107.1 138.5 107.3 138.7 107.7 138.7 107.8 138.8 115.1 138.8 115.2 138.7 115.6 138.7 115.8 138.5 115.8 137.9 115.6 137.7 107.3 137.7ZM120.9 134.2 120.1 134.9 119.5 135.7 119.5 136.0 119.2 136.9 119.2 137.3 119.1 137.4 119.1 139.9 119.2 140.0 119.2 140.4 119.3 140.5 119.5 141.6 120.6 142.9 120.9 143.1 121.5 143.2 121.9 143.4 122.4 143.4 122.5 143.5 124.2 143.5 124.3 143.4 124.8 143.4 125.2 143.2 125.8 143.1 126.6 142.4 127.2 141.6 127.6 140.2 127.6 139.8 127.7 139.7 127.7 137.6 127.6 137.5 127.6 137.1 127.2 135.7 126.1 134.4 125.8 134.2 125.2 134.1 124.8 133.9 124.3 133.9 124.2 133.8 122.5 133.8 122.4 133.9 121.9 133.9 121.5 134.1ZM123.2 135.0 123.5 135.0 123.9 135.2 124.3 135.8 124.7 137.6 124.8 137.7 124.8 139.6 124.4 140.9 124.4 141.3 124 142.0 123.5 142.3 123.2 142.3 122.7 142.0 122.4 141.5 122.4 141.1 122 139.8 122 137.5 122.4 136.2 122.4 135.8 122.7 135.3ZM130.2 141.0 129.8 141.4 129.8 142.9 130.2 143.3 130.8 143.5 131.3 143.5 131.9 143.3 132.4 142.7 132.4 141.6 132.3 141.4 131.7 140.9 130.4 140.9ZM136.4 134.2 135.6 134.9 135 135.7 135 136.0 134.7 136.9 134.7 137.3 134.6 137.4 134.6 139.9 134.7 140.0 134.7 140.4 134.8 140.5 135 141.6 136.1 142.9 136.4 143.1 137 143.2 137.4 143.4 137.9 143.4 138 143.5 139.7 143.5 139.8 143.4 140.3 143.4 140.7 143.2 141.3 143.1 142.1 142.4 142.7 141.6 143.1 140.2 143.1 139.8 143.2 139.7 143.2 137.6 143.1 137.5 143.1 137.1 142.7 135.7 141.6 134.4 141.3 134.2 140.7 134.1 140.3 133.9 139.8 133.9 139.7 133.8 138 133.8 137.9 133.9 137.4 133.9 137 134.1ZM138.7 135.0 139 135.0 139.4 135.2 139.8 135.8 140.2 137.6 140.3 137.7 140.3 139.6 139.9 140.9 139.9 141.3 139.5 142.0 139 142.3 138.7 142.3 138.2 142.0 137.9 141.5 137.9 141.1 137.5 139.8 137.5 137.5 137.9 136.2 137.9 135.8 138.2 135.3ZM146.3 134.2 145.5 134.9 144.9 135.7 144.9 136.0 144.6 136.9 144.6 137.3 144.5 137.4 144.5 139.9 144.6 140.0 144.6 140.4 144.7 140.5 144.9 141.6 146 142.9 146.3 143.1 146.9 143.2 147.3 143.4 147.8 143.4 147.9 143.5 149.6 143.5 149.7 143.4 150.2 143.4 150.6 143.2 151.2 143.1 152 142.4 152.6 141.6 153 140.2 153 139.8 153.1 139.7 153.1 137.6 153 137.5 153 137.1 152.6 135.7 151.5 134.4 151.2 134.2 150.6 134.1 150.2 133.9 149.7 133.9 149.6 133.8 147.9 133.8 147.8 133.9 147.3 133.9 146.9 134.1ZM148.6 135.0 148.9 135.0 149.3 135.2 149.7 135.8 150.1 137.6 150.2 137.7 150.2 139.6 149.8 140.9 149.8 141.3 149.4 142.0 148.9 142.3 148.6 142.3 148.1 142.0 147.8 141.5 147.8 141.1 147.4 139.8 147.4 137.5 147.8 136.2 147.8 135.8 148.1 135.3ZM158.3 133.8 158.2 133.9 157.7 133.9 156.9 134.2 156.6 134.2 155.8 134.8 155 135.7 154.4 137.4 154.4 141.0 154.8 142.0 156 143.0 157.8 143.5 159.4 143.5 159.5 143.4 160 143.4 160.4 143.2 161 143.1 161.5 142.8 162.4 142.0 162.9 140.8 162.9 139.7 162.4 138.5 161.7 137.9 160.9 137.4 160.6 137.4 159.8 137.1 159.3 137.1 159.2 137.0 158 137.0 157.9 137.1 157.6 137.1 157.5 136.8 157.7 136.2 158.2 135.4 158.7 135.1 159.2 135.0 159.3 135.1 159.1 135.3 159.1 136.3 159.8 136.9 161.1 137.0 161.2 136.9 161.7 136.9 162.4 136.3 162.5 136.1 162.5 135.5 162 134.6 161.1 134.0 160.3 133.9 160.2 133.8ZM158.4 138.3 158.8 138.3 159.4 138.6 159.6 138.8 160 139.9 160 140.7 159.6 141.7 159.2 142.1 159 142.1 158.7 142.3 158.5 142.3 158 142.0 157.3 140.5 157.3 139.3 157.8 138.6ZM174.9 134.4 173.9 135.3 173.1 137.0 173.1 140.2 173.9 141.9 175.2 143.0 175.8 143.1 176.2 143.3 176.7 143.3 176.8 143.4 178.6 143.4 178.7 143.3 179.2 143.3 179.6 143.1 179.8 143.1 180 143.3 180.5 143.3 180.7 143.4 180.8 143.3 181.3 143.3 181.6 143.1 181.7 142.9 181.7 140.5 182 140.2 182.6 140.1 182.9 139.9 183 139.5 182.9 139.3 182.6 139.1 182.1 139.1 182 139.0 178.4 139.0 178.3 139.1 177.8 139.1 177.5 139.3 177.5 139.9 177.8 140.1 178.5 140.2 178.8 140.6 178.8 141.7 178.1 142.2 177.5 142.2 176.9 141.8 176.3 141.0 176.3 140.7 175.9 139.6 175.9 137.6 176.1 137.2 176.3 136.2 177.1 135.2 177.5 135.0 178.1 135.0 178.5 135.2 179.3 135.9 179.7 137.1 180 137.3 180.5 137.3 180.6 137.4 180.8 137.3 181.3 137.3 181.6 137.1 181.7 136.9 181.7 134.3 181.6 134.1 181.3 133.9 180.8 133.9 180.7 133.8 180.5 133.9 180 133.9 179.8 134.1 179.2 133.9 178.7 133.9 178.6 133.8 176.8 133.8 176.7 133.9 176.2 133.9 175.8 134.1 175.5 134.1ZM185.7 137.0 184.8 138.0 184.5 138.9 184.5 141.0 184.8 141.9 185.7 142.9 186.2 143.2 187.1 143.5 189.1 143.6 189.2 143.5 189.7 143.5 190.8 143.1 191.9 142.1 192 141.9 191.9 141.4 191.6 141.2 191.1 141.2 191 141.1 190.9 141.2 190.4 141.2 189.4 142.1 188.4 142.4 187.7 141.9 187.3 140.8 187.3 140.2 187.4 140.1 191 140.1 191.1 140.0 191.6 140.0 191.9 139.8 192 139.6 192 138.4 191.5 137.4 191.1 137.0 190.6 136.7 189.7 136.4 189.2 136.4 189.1 136.3 187.1 136.4 186.2 136.7ZM187.4 138.8 187.7 138.0 188.4 137.5 188.9 137.8 189.2 138.5 189.2 138.8 189.1 138.9 187.5 138.9ZM193.3 133.9 193 134.1 193 134.7 193.3 134.9 193.8 135.0 194.3 135.7 194.4 136.2 194.8 137.0 194.9 137.5 195.3 138.3 195.4 138.8 195.6 139.1 195.7 139.6 195.9 139.9 195.9 140.1 196.1 140.4 197.1 143.1 197.4 143.3 197.9 143.3 198 143.4 198.2 143.3 198.7 143.3 199 143.1 199.3 142.5 199.3 142.3 199.8 141.3 199.8 141.1 200 140.8 200 140.6 200.2 140.3 200.2 140.1 200.4 139.8 200.4 139.6 200.6 139.3 200.6 139.1 200.8 138.8 200.8 138.6 201 138.3 201 138.1 201.2 137.8 202.2 135.1 203.1 134.7 203.2 134.5 203.1 134.1 202.8 133.9 202.3 133.9 202.2 133.8 199.4 133.8 199.3 133.9 198.8 133.9 198.5 134.1 198.5 134.7 198.8 134.9 200 135.0 200.1 135.1 198.8 138.2 198.7 138.6 198.5 138.7 197.9 137.3 197.6 136.3 197.4 136.0 197.3 135.5 197.1 135.2 197.3 134.9 197.7 134.9 198 134.7 198.1 134.5 198 134.1 197.7 133.9 197.2 133.9 197.1 133.8 193.9 133.8 193.8 133.9ZM207.1 133.4 206.6 133.5 206.2 133.8 203.2 137.6 203.2 138.1 203.6 138.4 203.9 138.4 204 138.5 205.6 138.5 205.7 138.7 204.9 139.2 204.9 139.6 205.1 139.8 205.7 140.0 208 140.0 208.6 139.8 208.8 139.6 208.8 139.2 208.4 138.9 208.1 138.9 207.9 138.6 208 138.5 208.9 138.4 209.3 138.1 209.3 137.7 209.1 137.5 208.5 137.3 208 137.3 207.9 137.2 207.9 133.8 207.7 133.6ZM205.5 137.2 205.6 137.1 205.7 137.2 205.6 137.3ZM303.9 253.5 303.6 253.7 303.6 254.3 303.9 254.5 304.2 254.5 304.7 255.1 305.4 257.4 305.6 257.7 307.3 262.8 307.6 263.0 308.1 263.0 308.2 263.1 308.4 263.0 308.9 263.0 309.2 262.8 309.4 262.4 310.7 258.6 310.9 258.3 311.2 257.2 311.4 256.9 311.7 255.8 311.9 255.5 312.1 254.7 312.3 254.5 312.6 254.5 312.9 254.3 313 254.1 312.9 253.7 312.6 253.5 312.1 253.5 312 253.4 309.5 253.4 309.4 253.5 308.9 253.5 308.6 253.7 308.6 254.3 308.9 254.5 309.4 254.5 310 254.7 309.3 256.8 309.1 257.1 308.9 257.9 308.7 258.2 307.5 254.8 307.6 254.5 308 254.5 308.3 254.3 308.4 254.1 308.3 253.7 308 253.5 307.5 253.5 307.4 253.4 304.5 253.4 304.4 253.5ZM316.1 261.3 315.7 261.7 315.5 262.1 315 262.5 315 263.0 315.5 263.4 315.5 266.3 315.2 266.4 314.9 266.7 314.9 267.1 315.2 267.4 315.5 267.4 315.6 267.5 317.2 267.5 317.3 267.4 317.6 267.4 317.9 267.1 317.9 266.7 317.6 266.4 317.3 266.3 317.3 261.6 317 261.3ZM320.6 259.9 320.6 260.5 320.8 260.7 321.2 260.7 321.3 260.8 329.3 260.8 329.4 260.7 329.8 260.7 330 260.5 330 259.9 329.8 259.7 320.8 259.7ZM320.6 257.2 320.6 257.8 320.8 258.0 321.2 258.0 321.3 258.1 329.3 258.1 329.4 258.0 329.8 258.0 330 257.8 330 257.2 329.8 257.0 320.8 257.0ZM334.2 253.8 333.6 254.2 332.8 255.3 332.6 256.5 332.4 257.0 332.4 259.8 332.6 260.3 332.8 261.5 333.7 262.7 334.2 263.0 335.1 263.3 335.6 263.3 335.7 263.4 337.3 263.4 337.4 263.3 337.9 263.3 339 262.9 339.4 262.6 340.2 261.5 340.5 260.5 340.6 259.7 340.7 259.6 340.7 257.2 340.6 257.1 340.5 256.3 340.2 255.3 339.3 254.1 338.8 253.8 337.9 253.5 337.4 253.5 337.3 253.4 335.7 253.4 335.6 253.5 335.1 253.5ZM336.4 254.6 336.8 254.7 337.4 255.5 337.6 256.7 337.8 257.2 337.8 257.6 337.9 257.7 337.9 259.1 337.8 259.2 337.8 259.6 337.6 260.1 337.4 261.3 337.1 261.8 336.6 262.2 336.2 262.1 335.7 261.4 335.5 260.7 335.5 260.3 335.3 259.8 335.3 259.4 335.2 259.3 335.2 257.5 335.3 257.4 335.6 255.7 335.9 255.0ZM27.7 377.1 27.2 377.6 26.7 378.4 25.9 378.9 25.9 379.9 26.1 380.1 26.4 380.1 26.5 380.2 27.1 379.9 27.2 380.1 27.2 386.4 27.1 386.6 26.1 386.6 25.9 386.8 25.9 387.6 26.1 387.8 26.4 387.8 26.5 387.9 29.4 387.9 29.5 387.8 29.8 387.8 30 387.6 30.1 386.9 29.8 386.6 28.9 386.6 28.8 386.4 28.8 377.4 28.5 377.1ZM35 377.1 33.8 377.4 32.7 379.1 32.4 380.9 32.3 380.9 32.3 384.1 32.4 384.2 32.7 385.9 33.8 387.6 35.4 388.1 36.8 388.1 38.4 387.6 39.6 385.8 39.9 383.9 40 383.9 40 381.2 39.9 381.1 39.6 379.2 38.4 377.4 37.2 377.1ZM35.9 378.4 36.3 378.4 37.3 378.9 37.8 379.9 37.8 380.4 37.9 380.4 37.9 380.9 38 380.9 38 381.4 38.2 381.9 38.2 383.1 38.1 383.2 37.8 385.1 37.3 386.1 37.1 386.2 36.1 386.8 35.1 386.2 34.9 386.1 34.5 385.2 34.5 384.9 34.4 384.8 34.4 384.4 34.3 384.2 34.3 383.9 34.1 383.2 34.1 381.8 34.2 381.7 34.5 379.8 34.9 378.9ZM42.2 380.4 42.3 380.9 42.8 381.1 46.3 381.1 46.4 381.1 46.7 381.1 46.9 380.8 46.9 380.4 46.7 380.1 42.4 380.1ZM51.3 376.3 50.8 376.4 50.5 376.7 50.3 377.2 48.1 380.9 48.1 381.7 48.3 381.9 48.6 381.9 48.7 382.0 50.1 382.0 50.2 382.1 50.1 382.4 49.5 382.8 49.5 383.4 49.7 383.6 50 383.6 50.1 383.7 52 383.7 52.1 383.6 52.4 383.6 52.7 383.3 52.7 382.9 52.4 382.6 52.1 382.6 52 382.5 52 382.1 52.1 382.0 52.8 381.9 53.1 381.6 53.1 381.1 52.8 380.8 52.5 380.8 52 380.6 52 376.7 51.7 376.4 51.4 376.4ZM49.9 380.6 50.1 380.4 50.2 380.5 50.1 380.7ZM27.7 317.4 27.2 317.9 26.7 318.7 25.9 319.3 25.9 320.2 26.1 320.4 26.4 320.4 26.5 320.5 27.1 320.3 27.2 320.4 27.2 326.8 27.1 326.9 26.1 326.9 25.9 327.1 25.9 327.9 26.1 328.1 26.4 328.1 26.5 328.2 29.4 328.2 29.5 328.1 29.8 328.1 30 327.9 30.1 327.3 29.8 326.9 28.9 326.9 28.8 326.8 28.8 317.8 28.5 317.4ZM35 317.4 33.8 317.8 32.7 319.4 32.4 321.2 32.3 321.3 32.3 324.4 32.4 324.5 32.7 326.3 33.8 327.9 35.4 328.4 36.8 328.4 38.4 327.9 39.6 326.1 39.9 324.3 40 324.2 40 321.5 39.9 321.4 39.6 319.6 38.4 317.8 37.2 317.4ZM35.9 318.7 36.3 318.7 37.3 319.3 37.8 320.3 37.8 320.7 37.9 320.8 37.9 321.2 38 321.3 38 321.7 38.2 322.3 38.2 323.4 38.1 323.5 37.8 325.4 37.3 326.4 37.1 326.6 36.1 327.1 35.1 326.6 34.9 326.4 34.5 325.6 34.5 325.2 34.4 325.1 34.4 324.7 34.3 324.6 34.3 324.2 34.1 323.6 34.1 322.1 34.2 322.0 34.5 320.1 34.9 319.3ZM42.2 320.7 42.3 321.3 42.8 321.5 46.3 321.5 46.4 321.4 46.7 321.4 46.9 321.1 46.9 320.7 46.7 320.4 42.4 320.4ZM49.7 316.7 48.8 317.0 48.3 317.5 48.1 318.0 48.1 319.2 48.5 319.6 48.8 319.6 48.9 319.7 49.5 319.6 49.6 319.7 49.6 320.3 49.8 320.5 50.5 320.6 50.9 320.9 50.9 321.2 51.1 321.6 51 322.5 50.7 322.9 50.1 322.9 50 322.8 50.2 322.5 50.2 321.9 50.1 321.7 49.6 321.2 48.9 321.1 48.8 321.2 48.5 321.2 48.1 321.6 48.1 322.8 48.3 323.3 48.8 323.8 49.7 324.1 51.2 324.1 52.1 323.8 52.7 323.2 52.9 322.7 52.9 321.0 52.7 320.6 52.3 320.2 52.3 320.0 52.5 319.8 52.7 319.3 52.7 317.9 52.5 317.6 52.5 317.4 52.1 317.0 51.2 316.7ZM50.5 317.9 50.8 318.3 50.8 318.9 50.5 319.3 50 319.4 49.9 319.3 50.2 318.9 50.2 318.3 50 318.0 50.1 317.9ZM27.7 257.8 27.2 258.3 26.7 259.1 25.9 259.7 25.9 260.6 26.1 260.8 26.4 260.8 26.5 260.9 27.1 260.7 27.2 260.8 27.2 267.2 27.1 267.3 26.1 267.3 25.9 267.5 25.9 268.3 26.1 268.5 26.4 268.5 26.5 268.6 29.4 268.6 29.5 268.5 29.8 268.5 30 268.3 30.1 267.7 29.8 267.3 28.9 267.3 28.8 267.2 28.8 258.2 28.5 257.8ZM35 257.8 33.8 258.2 32.7 259.8 32.4 261.6 32.3 261.7 32.3 264.8 32.4 264.9 32.7 266.7 33.8 268.3 35.4 268.8 36.8 268.8 38.4 268.3 39.6 266.5 39.9 264.7 40 264.6 40 261.9 39.9 261.8 39.6 260.0 38.4 258.2 37.2 257.8ZM35.9 259.1 36.3 259.1 37.3 259.7 37.8 260.7 37.8 261.1 37.9 261.2 37.9 261.6 38 261.7 38 262.1 38.2 262.7 38.2 263.8 38.1 263.9 37.8 265.8 37.3 266.8 37.1 267.0 36.1 267.5 35.1 267.0 34.9 266.8 34.5 266.0 34.5 265.6 34.4 265.5 34.4 265.1 34.3 265.0 34.3 264.6 34.1 264.0 34.1 262.5 34.2 262.4 34.5 260.5 34.9 259.7ZM42.2 261.1 42.3 261.7 42.8 261.9 46.3 261.9 46.4 261.8 46.7 261.8 46.9 261.5 46.9 261.1 46.7 260.8 42.4 260.8ZM48.8 257.4 48.3 257.9 48.1 258.4 48.1 259.6 48.5 260.0 48.8 260.0 48.9 260.1 49.6 260.0 50.1 259.5 50.2 259.3 50.2 258.7 50 258.5 50.1 258.3 50.7 258.3 51 258.7 51.1 259.2 50.9 259.5 50.9 259.7 50.3 260.3 49 261.0 48.3 261.8 48.1 262.4 48.1 264.2 48.3 264.4 48.6 264.4 48.7 264.5 48.8 264.4 49.1 264.4 49.5 263.9 50 264.3 50.6 264.5 51.8 264.5 51.9 264.4 52.2 264.4 52.7 263.9 52.9 263.4 52.9 262.2 52.6 261.9 52.3 261.9 52.2 261.8 52.1 261.9 51.8 261.9 51.6 262.1 51.6 262.6 51.5 262.7 50.5 262.7 49.6 262.4 50.1 261.9 51.8 261.1 52.7 260.3 52.9 259.9 52.9 258.5 52.8 258.2 52.1 257.4 51.2 257.1 49.7 257.1ZM27.7 198.2 27.2 198.7 26.7 199.5 25.9 200.1 25.9 201.0 26.1 201.2 26.4 201.2 26.5 201.3 27.1 201.1 27.2 201.2 27.2 207.6 27.1 207.7 26.1 207.7 25.9 207.9 25.9 208.7 26.1 208.9 26.4 208.9 26.5 209.0 29.4 209.0 29.5 208.9 29.8 208.9 30 208.7 30.1 208.1 29.8 207.7 28.9 207.7 28.8 207.6 28.8 198.6 28.5 198.2ZM35 198.2 33.8 198.6 32.7 200.2 32.4 202.0 32.3 202.1 32.3 205.2 32.4 205.3 32.7 207.1 33.8 208.7 35.4 209.2 36.8 209.2 38.4 208.7 39.6 206.9 39.9 205.1 40 205.0 40 202.3 39.9 202.2 39.6 200.4 38.4 198.6 37.2 198.2ZM35.9 199.5 36.3 199.5 37.3 200.1 37.8 201.1 37.8 201.5 37.9 201.6 37.9 202.0 38 202.1 38 202.5 38.2 203.1 38.2 204.2 38.1 204.3 37.8 206.2 37.3 207.2 37.1 207.4 36.1 207.9 35.1 207.4 34.9 207.2 34.5 206.4 34.5 206.0 34.4 205.9 34.4 205.5 34.3 205.4 34.3 205.0 34.1 204.4 34.1 202.9 34.2 202.8 34.5 200.9 34.9 200.1ZM42.2 201.5 42.3 202.1 42.8 202.3 46.3 202.3 46.4 202.2 46.7 202.2 46.9 201.9 46.9 201.5 46.7 201.2 42.4 201.2ZM50.6 197.4 50.5 197.5 50.2 197.5 49.9 197.8 49.8 198.3 49.2 198.8 49.2 199.5 49.8 199.8 49.8 203.4 49.5 203.7 49.4 203.7 49.1 203.9 49.1 204.5 49.4 204.7 49.6 204.7 49.8 204.8 51.2 204.8 51.4 204.7 51.6 204.7 51.9 204.4 51.9 204.0 51.4 203.5 51.4 197.8 51 197.5 50.8 197.5ZM34.6 138.6 33.8 139.7 32.9 140.5 32.9 141.4 33.1 141.6 33.4 141.6 33.5 141.7 34 141.6 34.1 141.7 34.1 148.0 34 148.1 33.1 148.1 32.9 148.2 32.9 149.1 33.1 149.2 33.4 149.2 33.5 149.4 36.3 149.4 36.4 149.2 36.7 149.2 36.9 149.1 37 148.5 36.7 148.1 35.9 148.1 35.8 148.0 35.8 139.0 35.5 138.6ZM41.6 138.6 40.4 139.0 39.3 140.6 39 142.4 38.9 142.5 38.9 145.6 39 145.7 39.3 147.5 40.4 149.1 42 149.6 43.4 149.6 45 149.1 46.2 147.2 46.5 145.5 46.6 145.4 46.6 142.7 46.5 142.6 46.2 140.8 45 139.0 43.8 138.6ZM42.5 139.9 42.9 139.9 43.9 140.5 44.4 141.5 44.4 141.9 44.5 142.0 44.5 142.4 44.6 142.5 44.6 142.9 44.8 143.5 44.8 144.6 44.7 144.7 44.4 146.6 43.9 147.6 43.7 147.8 42.7 148.2 41.7 147.8 41.5 147.6 41.1 146.8 41.1 146.4 41 146.2 41 145.9 40.9 145.8 40.9 145.4 40.7 144.8 40.7 143.2 40.8 143.2 41.1 141.2 41.5 140.5ZM50.2 137.8 49.8 138.0 49.4 138.4 49 139.1 48.9 140.1 48.8 140.2 48.8 142.7 48.9 142.8 49 143.8 49.4 144.5 49.8 144.9 50.6 145.2 51.5 145.2 52.2 144.9 52.8 144.4 53.1 143.7 53.2 142.7 53.4 142.6 53.4 140.3 53.2 140.2 53.1 139.2 52.8 138.5 52.2 138.0 51.8 137.8ZM50.9 138.9 51.1 138.9 51.4 139.1 51.6 139.6 51.6 140.1 51.8 140.7 51.8 142.2 51.6 142.8 51.6 143.3 51.4 143.8 51.1 144.0 50.9 144.0 50.6 143.7 50.5 142.4 50.4 142.3 50.4 140.6 50.6 140.0 50.6 139.5ZM34.6 78.9 33.8 80.0 32.9 80.8 32.9 81.7 33.1 81.9 33.4 81.9 33.5 82.0 34 81.9 34.1 82.0 34.1 88.3 34 88.4 33.1 88.4 32.9 88.6 32.9 89.4 33.1 89.6 33.4 89.6 33.5 89.7 36.3 89.7 36.4 89.6 36.7 89.6 36.9 89.4 37 88.8 36.7 88.4 35.9 88.4 35.8 88.3 35.8 79.3 35.5 78.9ZM41.6 78.9 40.4 79.3 39.3 80.9 39 82.7 38.9 82.8 38.9 85.9 39 86.0 39.3 87.8 40.4 89.4 42 89.9 43.4 89.9 45 89.4 46.2 87.6 46.5 85.8 46.6 85.7 46.6 83.0 46.5 82.9 46.2 81.1 45 79.3 43.8 78.9ZM42.5 80.2 42.9 80.2 43.9 80.8 44.4 81.8 44.4 82.2 44.5 82.3 44.5 82.7 44.6 82.8 44.6 83.2 44.8 83.8 44.8 84.9 44.7 85.0 44.4 86.9 43.9 87.9 43.7 88.1 42.7 88.6 41.7 88.1 41.5 87.9 41.1 87.1 41.1 86.7 41 86.6 41 86.2 40.9 86.1 40.9 85.7 40.7 85.1 40.7 83.6 40.8 83.5 41.1 81.6 41.5 80.8ZM51 78.2 50.9 78.3 50.6 78.3 50.2 78.6 50.1 79.1 49.6 79.6 49.6 80.3 50.1 80.6 50.1 84.2 49.9 84.5 49.7 84.5 49.5 84.7 49.5 85.3 49.7 85.5 50 85.5 50.1 85.6 51.6 85.6 51.7 85.5 52 85.5 52.2 85.2 52.2 84.8 51.7 84.3 51.7 78.6 51.4 78.3 51.1 78.3ZM34.6 19.3 33.8 20.4 32.9 21.2 32.9 22.1 33.1 22.3 33.4 22.3 33.5 22.4 34 22.3 34.1 22.4 34.1 28.7 34 28.8 33.1 28.8 32.9 29.0 32.9 29.8 33.1 30.0 33.4 30.0 33.5 30.1 36.3 30.1 36.4 30.0 36.7 30.0 36.9 29.8 37 29.2 36.7 28.8 35.9 28.8 35.8 28.7 35.8 19.7 35.5 19.3ZM41.6 19.3 40.4 19.7 39.3 21.3 39 23.1 38.9 23.2 38.9 26.3 39 26.4 39.3 28.2 40.4 29.8 42 30.3 43.4 30.3 45 29.8 46.2 28.0 46.5 26.2 46.6 26.1 46.6 23.4 46.5 23.3 46.2 21.5 45 19.7 43.8 19.3ZM42.5 20.6 42.9 20.6 43.9 21.2 44.4 22.2 44.4 22.6 44.5 22.7 44.5 23.1 44.6 23.2 44.6 23.6 44.8 24.2 44.8 25.3 44.7 25.4 44.4 27.3 43.9 28.3 43.7 28.5 42.7 29.0 41.7 28.5 41.5 28.3 41.1 27.5 41.1 27.1 41 27.0 41 26.6 40.9 26.5 40.9 26.1 40.7 25.5 40.7 24.0 40.8 23.9 41.1 22.0 41.5 21.2ZM49.5 18.9 49 19.4 48.8 19.9 48.8 21.1 49.1 21.5 49.5 21.5 49.5 21.6 50.2 21.5 50.8 21.0 50.9 20.8 50.9 20.2 50.6 20.0 50.8 19.8 51.4 19.8 51.6 20.2 51.8 20.7 51.5 21.0 51.5 21.2 51 21.8 49.6 22.5 49 23.2 48.8 23.9 48.8 25.7 49 25.9 49.2 25.9 49.4 26.0 49.5 25.9 49.8 25.9 50.1 25.4 50.6 25.8 51.2 26.0 52.5 26.0 52.5 25.9 52.9 25.9 53.4 25.4 53.5 24.9 53.5 23.7 53.2 23.4 53 23.4 52.9 23.2 52.8 23.4 52.5 23.4 52.2 23.6 52.2 24.1 52.1 24.2 51.1 24.2 50.2 23.9 50.8 23.4 52.5 22.6 53.4 21.8 53.5 21.4 53.5 20.0 53.5 19.7 52.8 18.9 51.9 18.6 50.4 18.6ZM51.6 390.5 50.6 391.7 49.9 392.3 49.9 393.2 50.1 393.4 50.4 393.4 50.5 393.5 51 393.4 51.1 393.5 51.1 399.3 51 399.4 50.1 399.4 49.9 399.6 49.9 400.4 50.1 400.6 50.4 400.6 50.5 400.7 53.2 400.7 53.4 400.6 53.6 400.6 53.9 400.4 54 399.8 53.6 399.4 52.9 399.4 52.8 399.3 52.8 390.9 52.5 390.5ZM58.6 390.5 57.5 390.9 56.4 392.4 56.1 394.1 56 394.2 56 397.1 56.1 397.2 56.4 398.9 57.5 400.4 59 400.9 60.6 400.9 62.1 400.4 62.4 400.1 63.2 398.7 63.6 397.0 63.7 396.9 63.7 394.4 63.6 394.3 63.2 392.6 62.4 391.2 62.1 390.9 61 390.5ZM59.5 391.8 60.1 391.8 60.7 392.1 61.1 392.5 61.5 393.3 61.8 395.1 61.9 395.2 61.9 396.1 61.8 396.2 61.5 398.0 61.1 398.8 60.7 399.2 59.8 399.6 58.9 399.2 58.5 398.8 58.2 398.2 57.9 396.4 57.8 396.3 57.8 395.0 57.9 394.9 58.2 393.1 58.5 392.5 58.9 392.1ZM68.2 389.8 67.7 389.9 67.1 390.9 66.7 391.2 66.7 391.9 67.2 392.2 67.2 395.9 66.6 396.3 66.6 396.9 66.8 397.1 67.1 397.1 67.2 397.2 68.8 397.2 68.9 397.1 69.2 397.1 69.5 396.8 69.5 396.4 69.2 396.1 68.9 396.0 68.9 390.2 68.6 389.9 68.3 389.9ZM73.8 389.8 73.6 389.9 73.3 389.9 73 390.2 70.5 394.4 70.5 395.2 70.8 395.4 71 395.4 71.1 395.5 72.5 395.5 72.6 395.6 72.5 396.0 72.5 396.1 72.1 396.1 72 396.3 72 396.9 72.1 397.1 72.5 397.1 72.5 397.2 74.5 397.2 74.6 397.1 75 397.1 75.2 396.8 75.2 396.4 75 396.1 74.6 396.1 74.5 395.8 74.5 395.6 74.5 395.5 75.3 395.4 75.6 395.1 75.6 394.6 75.3 394.3 74.5 394.2 74.5 394.1 74.5 390.2 74.1 389.9 73.8 389.9ZM72.5 394.0 72.5 393.9 72.6 394.1 72.5 394.2ZM230.6 390.5 230 391.1 229.7 391.6 228.8 392.3 228.8 393.2 229 393.4 229.3 393.4 229.4 393.5 230 393.3 230.1 393.4 230.1 399.3 230 399.4 229 399.4 228.8 399.6 228.8 400.4 229 400.6 229.3 400.6 229.4 400.7 232.3 400.7 232.4 400.6 232.7 400.6 232.9 400.4 233 399.8 232.7 399.4 231.8 399.4 231.7 399.3 231.7 390.9 231.4 390.5ZM237.5 390.5 236.4 390.9 235.3 392.4 235 394.1 234.9 394.2 234.9 397.1 235 397.2 235.3 398.9 236.4 400.4 237.9 400.9 239.5 400.9 241 400.4 241.3 400.1 242.2 398.7 242.5 397.0 242.6 396.9 242.6 394.4 242.5 394.3 242.2 392.6 241.3 391.2 241 390.9 239.9 390.5ZM238.4 391.8 239 391.8 239.6 392.1 240 392.5 240.4 393.3 240.7 395.1 240.8 395.2 240.8 396.1 240.7 396.2 240.4 398.0 240 398.8 239.6 399.2 238.7 399.6 237.8 399.2 237.4 398.8 237.1 398.2 236.8 396.4 236.7 396.3 236.7 395.0 236.8 394.9 237.1 393.1 237.4 392.5 237.8 392.1ZM247.2 389.8 246.7 389.9 246.1 390.9 245.7 391.2 245.7 391.9 246.2 392.2 246.2 395.9 245.6 396.3 245.6 396.9 245.8 397.1 246.1 397.1 246.2 397.2 247.8 397.2 247.9 397.1 248.2 397.1 248.5 396.8 248.5 396.4 248.2 396.1 247.9 396.0 247.9 390.2 247.6 389.9 247.3 389.9ZM250.2 389.9 250 390.1 249.9 390.8 249.8 390.9 249.8 391.4 249.7 391.5 249.6 392.5 249.5 392.6 249.5 393.7 249.7 393.9 250 393.9 250.1 394.0 250.2 393.9 250.5 393.9 251.2 393.2 252.1 393.1 252.5 393.4 252.8 394.3 252.8 394.8 252.5 395.7 252.1 396.0 251.5 396.0 251.4 395.9 251.6 395.7 251.6 394.9 251 394.3 250.7 394.3 250.6 394.2 249.9 394.3 249.5 394.8 249.5 395.9 250.2 396.9 250.8 397.1 251.1 397.1 251.2 397.2 252.5 397.2 253.5 396.9 254.2 396.2 254.5 395.7 254.5 395.4 254.6 395.3 254.6 393.8 254.4 393.1 253.5 392.2 252.3 391.8 251.4 391.8 251.2 391.9 251.1 391.7 251.2 391.6 251.8 391.6 251.9 391.5 253.3 391.2 253.7 391.0 254.1 390.6 254.1 390.2 253.8 389.9 253.5 389.9 253.4 389.8 250.6 389.8 250.5 389.9ZM409.6 390.5 408.9 391.1 408.6 391.6 407.8 392.3 407.8 393.2 407.9 393.4 408.2 393.4 408.4 393.5 408.9 393.3 409.1 393.4 409.1 399.3 408.9 399.4 407.9 399.4 407.8 399.6 407.8 400.4 407.9 400.6 408.2 400.6 408.4 400.7 411.2 400.7 411.4 400.6 411.6 400.6 411.9 400.4 411.9 399.8 411.6 399.4 410.8 399.4 410.6 399.3 410.6 390.9 410.4 390.5ZM416.5 390.5 415.4 390.9 414.2 392.4 414 394.1 413.9 394.2 413.9 397.1 414 397.2 414.2 398.9 415.4 400.4 416.9 400.9 418.5 400.9 420 400.4 420.2 400.1 421.2 398.7 421.5 397.0 421.6 396.9 421.6 394.4 421.5 394.3 421.2 392.6 420.2 391.2 420 390.9 418.9 390.5ZM417.4 391.8 418 391.8 418.6 392.1 419 392.5 419.4 393.3 419.7 395.1 419.8 395.2 419.8 396.1 419.7 396.2 419.4 398.0 419 398.8 418.6 399.2 417.7 399.6 416.8 399.2 416.4 398.8 416.1 398.2 415.8 396.4 415.7 396.3 415.7 395.0 415.8 394.9 416.1 393.1 416.4 392.5 416.8 392.1ZM426.1 389.8 426 389.9 425.7 389.9 425.4 390.2 425.2 390.7 424.7 391.2 424.7 391.9 425.2 392.2 425.2 395.8 425 396.1 424.8 396.1 424.6 396.3 424.6 396.9 424.8 397.1 425.1 397.1 425.2 397.2 426.7 397.2 426.8 397.1 427.1 397.1 427.4 396.8 427.4 396.4 426.8 395.9 426.8 390.2 426.5 389.9 426.2 389.9ZM430.5 389.8 429.9 390.0 429 390.9 428.7 391.5 428.7 391.8 428.5 392.3 428.5 395.4 428.7 396.0 429.6 396.9 430.5 397.2 431.6 397.2 432.5 396.9 433.5 395.9 433.7 395.3 433.7 394.0 433.5 393.4 432.6 392.5 432.7 392.3 432.9 392.3 433.4 391.8 433.5 391.6 433.5 391.0 433.2 390.4 432.8 390.0 432.4 389.8ZM430.9 393.3 431.2 393.3 431.6 393.5 432 394.4 432 394.9 431.7 395.7 431.1 396.1 430.6 395.8 430.2 394.7 430.2 394.1 430.4 393.7ZM431.1 390.9 431.4 391.0 431.4 391.8 431.7 392.1 431.6 392.2 430.5 392.2 430.4 392.1 430.5 391.6 430.7 391.2ZM160.4 413.0 160.1 413.3 160.1 413.9 160.4 414.2 160.8 414.2 161.2 414.4 161.6 414.9 161.6 424.2 161.2 424.7 160.8 424.9 160.4 424.9 160.1 425.2 160.1 425.8 160.4 426.1 160.8 426.1 160.9 426.2 165.1 426.2 165.2 426.1 165.6 426.1 166 425.7 166 425.3 165.6 424.9 165.2 424.9 164.8 424.7 164.5 424.3 164.5 413.4 164.1 413.0 163.7 413.0 163.6 412.9 160.9 412.9 160.8 413.0ZM168.5 419.2 167.9 420.7 167.9 422.8 168.5 424.3 169.9 425.5 170.4 425.8 170.7 425.8 171.1 426.0 172.3 426.2 172.4 426.3 174.4 426.3 174.5 426.2 174.9 426.2 176.6 425.7 178 424.6 178.5 424.0 178.5 423.8 179 422.7 179 420.8 178.4 419.3 176.9 418.0 176.4 417.7 176.1 417.7 175.7 417.5 174.5 417.3 174.4 417.2 172.4 417.2 172.3 417.3 171.9 417.3 170.2 417.8ZM173 418.6 173.8 418.6 175.2 419.3 175.9 420.9 175.9 422.6 175.7 422.9 175.3 424.1 174.9 424.4 173.8 424.9 173 424.9 171.9 424.4 171.6 424.1 171 422.7 171 420.8 171.2 420.5 171.4 419.8 171.9 419.1ZM183.6 417.5 182.5 418.5 181.9 419.5 181.9 421.5 182.3 422.1 181.7 422.7 181.2 423.6 181.2 425.0 181.6 425.6 181.1 426.0 180.5 427.0 180.5 428.5 180.9 429.2 181.5 429.9 182.5 430.1 183.3 430.4 183.7 430.4 183.8 430.5 188.8 430.5 188.9 430.4 189.3 430.4 190.1 430.1 191.1 429.9 191.6 429.4 192.2 428.4 192.2 427.1 191.8 426.6 191.7 426.3 191 425.6 190.7 425.6 190.3 425.4 190 425.4 188.7 425.0 184.9 425.0 184.5 424.8 183.2 424.5 183 424.2 183.5 423.4 184.8 424.0 185.5 424.1 185.6 424.2 187 424.2 187.1 424.1 187.5 424.1 188.3 423.7 189 423.5 190.1 422.5 190.8 421.4 190.8 419.6 190.7 419.5 190.8 419.4 191.1 419.4 191.2 419.5 191.8 419.4 192.1 419.2 192.9 418.4 192.9 417.9 191.9 417.0 191.5 417.0 191.4 416.9 189.8 417.0 188.8 417.5 188 417.1 187.3 417.0 187.2 416.9 185.4 416.9ZM183 427.6 183.2 427.3 183.5 427.1 185.3 427.6 188.2 427.6 190 428.1 190.1 428.3 189.7 428.7 189 428.8 188.2 429.1 184.5 429.1 183.9 428.8 183.7 428.8 183.1 428.1ZM186 418.3 186.6 418.3 187 418.7 187.6 419.7 187.6 421.3 187 422.3 186.6 422.7 186 422.7 185.7 422.4 185.1 421.4 185.1 419.6 185.7 418.6ZM197.6 423.1 197.2 423.3 196.2 424.2 196 424.2 195.4 424.6 195.4 425.4 195.7 425.6 196 425.6 196.1 425.7 196.4 425.6 196.5 425.7 196.5 429.7 196.4 429.9 196.1 430.1 195.3 430.1 195 430.3 195 431.1 195.7 431.4 199.6 431.4 199.7 431.3 200 431.3 200.2 431.2 200.4 430.9 200.3 430.3 200 430.1 199.2 430.1 198.9 429.9 198.9 423.5 198.8 423.3 198.5 423.1ZM202.8 423.5 201.9 424.7 201.7 425.9 201.6 426.0 201.6 428.5 201.7 428.6 201.7 429.0 202 430.0 202.8 431.0 204.4 431.5 205.8 431.5 207.4 431.0 208.4 429.6 208.6 428.4 208.7 428.3 208.7 426.2 208.6 426.1 208.4 424.9 208.2 424.5 207.4 423.5 206.2 423.1 204 423.1ZM204.8 424.4 205.4 424.4 205.7 424.6 206 425.1 206 425.4 206.4 426.7 206.4 427.8 206.3 427.9 206 429.4 205.6 430.0 205.1 430.2 204.5 429.9 204.2 429.2 204.2 428.9 203.9 428.0 203.9 426.5 204 426.4 204.3 425.0 204.5 424.6ZM215.6 410.7 215.5 410.8 214.9 410.8 214.5 411.0 213.3 412.3 212.4 413.8 211.2 416.3 211 416.9 211 417.4 210.8 418.0 210.7 419.0 210.6 419.1 210.6 422.8 210.7 422.9 210.8 423.9 211 424.5 211 425.0 211.2 425.6 212.4 428.1 213.3 429.6 214.5 430.9 214.9 431.1 215.5 431.1 215.7 431.2 215.8 431.1 216.4 431.1 216.8 430.9 217 430.6 217 430.3 215.8 428.9 215.7 428.5 215.4 428.0 214.8 426.0 214.7 424.8 214.6 424.7 214.5 423.5 214.4 423.4 214.4 422.8 214.3 422.7 214.3 419.2 214.4 419.1 214.4 418.5 214.5 418.4 214.5 417.8 214.7 417.1 214.8 415.9 215.4 413.9 215.7 413.4 215.8 413.0 216.9 411.8 217 411.3 216.8 411.0 216.4 410.8 215.8 410.8ZM245.6 410.9 245.2 410.7 243.5 410.7 243 411.0 232.7 428.2 232.3 428.7 231.9 429.5 231.9 430.0 232.1 430.3 233 430.6 233.7 430.6 233.8 430.5 234.2 430.5 234.7 430.2 245 413.0 245.4 412.5 245.8 411.7 245.8 411.2ZM253.4 413.2 253 413.2 252.9 413.1 252.2 413.2 250.5 414.9 249.4 415.4 249.1 415.7 249.1 416.3 249.5 416.7 249.9 416.7 250 416.8 250.6 416.6 250.8 416.7 250.8 424.2 250.7 424.4 250.2 424.8 248.9 424.9 248.6 425.2 248.6 425.8 248.9 426.1 249.3 426.1 249.4 426.2 255.1 426.2 255.2 426.1 255.6 426.1 256 425.7 256 425.3 255.6 424.9 254.3 424.8 254.1 424.7 253.8 424.3 253.8 413.6ZM262.7 417.5 261.6 418.4 260.9 419.5 260.9 421.5 261.3 422.1 260.8 422.6 260.2 423.6 260.2 425.0 260.6 425.6 260 426.2 259.5 427.0 259.5 428.5 260 429.2 260.1 429.5 260.5 429.9 261.5 430.1 262.3 430.4 262.7 430.4 262.8 430.5 267.8 430.5 267.9 430.4 268.3 430.4 268.4 430.3 269.5 430.1 269.9 429.9 270.2 429.9 270.6 429.5 271.3 428.4 271.3 427.2 270.7 426.2 270.1 425.6 269.8 425.6 267.7 425.0 264 425.0 263.2 424.7 262.5 424.6 262.1 424.4 262 424.2 262.5 423.4 264.1 424.1 264.5 424.1 264.6 424.2 266.1 424.2 266.2 424.1 266.6 424.1 268 423.5 269.2 422.5 269.9 421.3 269.9 419.7 269.8 419.5 269.9 419.4 270.2 419.4 270.3 419.5 270.9 419.4 271.2 419.2 272 418.4 272 417.9 271 417.0 270.6 417.0 270.5 416.9 268.9 417.0 268.1 417.4 267.6 417.4 266.8 417.0 266.4 417.0 266.3 416.9 264.4 416.9 264.3 417.0 263.6 417.1ZM262 427.7 262.2 427.3 262.4 427.1 262.6 427.1 263 427.3 264.2 427.5 264.3 427.6 267.3 427.6 268.1 427.9 269.1 428.1 269.2 428.3 268.8 428.7 268.1 428.8 267.3 429.1 263.5 429.1 262.6 428.7 262.3 428.4 262 427.9ZM265.1 418.3 265.6 418.3 265.9 418.5 266.6 419.6 266.6 421.4 266 422.4 265.6 422.7 265.1 422.7 264.9 422.6 264.1 421.4 264.1 419.6 264.7 418.6ZM275.1 419.2 274.5 420.7 274.5 422.8 275.1 424.3 276.7 425.7 278.4 426.2 278.8 426.2 278.9 426.3 280.9 426.3 283 425.7 283.9 425.0 284.7 424.2 284.7 423.7 284.3 423.3 283.9 423.3 283.8 423.2 283.1 423.4 282 424.4 280.3 424.9 279.5 424.9 278.4 424.4 278.1 424.1 278 423.6 277.6 422.8 277.6 420.7 278 419.9 278.1 419.4 278.4 419.1 279.5 418.6 280.9 418.6 281.4 418.9 281.6 418.9 281.8 419.1 281.6 419.3 281.6 420.9 282 421.3 282.4 421.3 282.5 421.4 283.8 421.4 283.9 421.3 284.3 421.3 284.7 420.9 284.7 419.3 283.9 418.5 283 417.8 281.9 417.3 281.5 417.3 281.4 417.2 278.9 417.2 278.8 417.3 278.4 417.3 276.7 417.8ZM286.7 417.6 286.7 418.2 287 418.5 287.4 418.5 287.8 418.7 288.1 419.0 288.2 419.3 288.2 424.1 288.1 424.4 287.8 424.7 287.4 424.9 287 424.9 286.7 425.2 286.7 425.8 287 426.1 287.4 426.1 287.5 426.2 291.7 426.2 291.8 426.1 292.2 426.1 292.5 425.9 292.7 426.1 293.1 426.1 293.2 426.2 297.3 426.2 297.4 426.1 297.8 426.1 298.1 425.9 298.3 426.1 298.7 426.1 298.8 426.2 303 426.2 303.1 426.1 303.5 426.1 303.9 425.7 303.9 425.3 303.5 424.9 303.1 424.9 302.7 424.7 302.4 424.2 302.4 420.3 302.2 419.9 302 419.0 301 417.8 300.3 417.5 300.1 417.3 299.7 417.3 299.6 417.2 297.7 417.2 297.6 417.3 297.2 417.3 296.4 417.7 295.8 418.3 295.3 417.8 294.8 417.5 293.9 417.2 292 417.2 291.9 417.3 291.5 417.3 291 417.6 290.6 417.3 290.2 417.3 290.1 417.2 287.5 417.2 287.4 417.3 287 417.3ZM298.9 418.6 299.1 418.8 299.4 419.7 299.4 420.0 299.6 420.4 299.6 424.1 299.2 424.7 298.7 424.9 298.3 424.9 298 425.1 297.8 424.9 297.4 424.9 297 424.7 296.7 424.2 296.7 420.3 297.2 419.2 297.4 419.0 298.2 418.6ZM293.2 418.6 293.4 418.8 293.9 420.3 293.9 424.1 293.5 424.7 293.1 424.9 292.7 424.9 292.4 425.1 292.2 424.9 291.8 424.9 291.3 424.7 291 424.2 291 420.3 291.6 419.1 292.5 418.6ZM306.9 416.5 306.9 417.0 307.2 417.3 307.5 417.3 307.6 417.4 313.7 417.4 313.8 417.3 314.1 417.3 314.4 417.0 314.4 416.5 314.1 416.2 313.8 416.2 313.7 416.1 307.6 416.1 307.5 416.2 307.2 416.2ZM317.1 412.3 316.5 412.9 316.2 413.4 316.2 414.8 316.9 415.3 317.8 415.4 317.9 415.3 318.2 415.3 318.7 415.0 319 414.6 319 413.7 318.8 413.4 319.1 413.2 320.2 413.2 320.7 413.5 321 414.0 320.8 414.6 320.4 415.0 320 415.2 319.1 415.2 318.8 415.4 318.8 416.2 319.1 416.4 320.2 416.5 320.5 416.7 320.7 416.7 321.1 417.2 321.1 417.4 321.4 418.0 321.4 418.4 321.2 418.7 321.1 419.2 320.9 419.4 320.4 419.6 319.4 419.6 318.8 419.3 319 419.0 319 418.1 318.7 417.7 318.2 417.4 316.9 417.4 316.2 417.9 316.2 419.3 316.5 419.8 317.1 420.4 318.7 420.9 321.2 420.9 322.8 420.4 323.4 419.8 323.8 419.1 323.8 417.3 323.4 416.6 322.8 416.0 323.4 415.0 323.4 413.3 322.9 412.4 322.6 412.2 322 412.1 321.6 411.9 318.3 411.9ZM326.4 410.7 326.3 410.8 325.7 410.8 325.3 411.0 325.1 411.3 325.1 411.6 325.2 411.8 326.4 412.9 327 414.1 327.6 415.9 327.8 417.6 327.9 417.7 328 418.7 328.1 418.8 328.1 422.9 328 423.0 328 423.5 327.8 424.1 327.6 425.8 327 427.6 326.4 428.8 325.9 429.2 325.1 430.1 325.1 430.4 325.3 430.7 325.7 430.9 326.3 430.9 326.5 431.0 326.6 430.9 327.2 430.9 327.6 430.7 329.1 429.2 330.3 427.4 331.5 425.0 331.7 423.6 332 422.6 332 419.1 331.7 418.1 331.5 416.7 330 413.8 329.7 413.5 329.1 412.5 327.6 411.0 327.2 410.8 326.6 410.8ZM362 338.9 361.4 339.2 359.9 341.0 358.6 343.4 358.4 344.1 357.6 345.8 357.5 346.6 357.4 346.7 357.4 347.2 357.3 347.3 357.3 347.8 357.2 347.9 357.2 348.4 357.1 348.5 357.1 349.0 357 349.1 357 353.4 357.1 353.5 357.1 354.0 357.2 354.1 357.2 354.6 357.3 354.7 357.3 355.2 357.4 355.3 357.4 355.8 357.5 355.9 357.6 356.7 357.9 357.2 358.6 359.1 360.1 361.8 361.4 363.3 362 363.6 362.6 363.6 362.8 363.7 362.9 363.6 363.5 363.6 364.1 363.3 364.4 362.9 364.4 362.4 363.2 360.9 362.9 360.3 362.9 360.1 362.6 359.6 362.5 358.9 362 357.4 361.8 355.4 361.7 355.3 361.7 354.7 361.6 354.6 361.6 354.0 361.5 353.9 361.5 353.3 361.4 353.2 361.4 349.3 361.5 349.2 361.5 348.6 361.6 348.5 361.6 347.9 361.7 347.8 362 345.1 362.5 343.6 362.6 342.9 363.2 341.6 364.4 340.1 364.4 339.6 364.1 339.2 363.5 338.9ZM369.4 348.4 369.4 350.8 369.9 351.2 370.3 351.2 370.4 351.3 372 351.3 372.7 351.1 373.1 350.6 373.1 348.6 373 348.5 373.1 348.3 375.2 348.3 375.4 348.5 375.4 348.7 376.1 350.0 376.1 350.7 375.7 351.1 372 351.8 370 352.5 369.3 353.1 368.7 354.4 368.7 356.3 369.4 357.7 369.7 358.0 372.4 358.9 375.1 358.9 375.2 358.8 375.6 358.8 377.1 358.0 379.9 358.9 381.4 358.8 381.9 358.4 382 358.2 382 357.7 381.9 357.5 381.4 357.1 380.7 357.0 380.4 356.7 379.8 355.5 379.8 350.0 379 348.4 377.9 347.3 376.3 346.5 375.9 346.5 375.8 346.4 372.5 346.4 372.4 346.5 372 346.5 370.6 347.2ZM376 353.0 376.1 353.1 376.1 355.3 375.5 356.5 374.7 357.0 373.2 357.0 373 356.8 372.4 355.6 372.4 355.1 372.8 354.2 373 354.0 374 353.5ZM386.6 338.9 386.3 339.0 385.8 339.4 385.7 339.6 385.7 340.1 387.1 341.7 387.7 342.9 387.8 343.5 388.4 345.2 388.4 345.8 388.6 346.4 388.6 347.0 388.7 347.1 388.8 348.3 389 349.0 389 353.5 388.8 354.2 388.6 356.1 388.4 356.7 388.4 357.3 387.8 359.0 387.7 359.6 387.1 360.8 385.7 362.4 385.7 362.9 386 363.3 386.6 363.6 387.2 363.6 387.4 363.7 387.5 363.6 388.1 363.6 388.7 363.3 390.3 361.6 391.6 359.5 393 356.5 393 356.1 393.1 356.0 393.1 355.6 393.2 355.5 393.2 355.1 393.4 354.5 393.4 354.0 393.6 353.4 393.6 349.1 393.4 348.5 393.4 348.0 393.3 347.9 393 346.0 391.6 343.0 390.3 340.9 389.3 339.8 388.4 339.0 388.1 338.9Z" fill="#000"/>
<path d="M228.9 418.2 228.8 418.1 228.7 418.1 228.7 418.0 228.6 417.9 228.5 417.8 228.4 417.7 228.3 417.6 228.2 417.4 228.1 417.3 227.9 417.2 227.7 417.1 227.6 417.0 227.4 416.9 227.2 416.8 227.0 416.8 226.8 416.7 226.6 416.7 226.4 416.7 226.2 416.6 226.0 416.6 225.8 416.6 225.6 416.6 225.3 416.6 225.1 416.6 224.9 416.6 224.7 416.6 224.5 416.6 224.3 416.6 224.0 416.6 223.8 416.6 223.6 416.7 223.3 416.7 223.1 416.8 222.9 416.8 222.7 416.9 222.5 417.0 222.2 417.2 222.0 417.3 221.9 417.5 221.7 417.7 221.5 417.9 221.4 418.1 221.3 418.3 221.2 418.5 221.2 418.7 221.1 418.9 221.1 419.1 221.1 419.3 221.1 419.5 221.1 419.7 221.2 420.0 221.3 420.2 221.4 420.3 221.5 420.5 221.6 420.7 221.7 420.9 221.9 421.0 222.0 421.2 222.2 421.3 222.4 421.5 222.6 421.6 222.8 421.7 223.0 421.8 223.3 421.8 223.4 421.9 223.6 421.9 223.8 421.9 224.0 422.0 224.2 422.0 224.4 422.0 224.5 422.1 224.7 422.1 225.1 422.1 225.5 422.0 225.8 421.6 225.8 421.2 225.7 420.8 225.3 420.5 225.2 420.4 225.0 420.3 224.9 420.2 224.7 420.1 224.5 420.0 224.4 419.9 224.3 419.8 224.2 419.8 224.1 419.7 224.0 419.6 224.0 419.6 224.0 419.5 224.0 419.5 224.0 419.5 224.0 419.4 224.0 419.4 224.0 419.3 224.0 419.3 224.0 419.3 224.1 419.3 224.1 419.3 224.1 419.3 224.1 419.3 224.1 419.3 224.1 419.3 224.1 419.3 224.1 419.3 224.1 419.3 224.1 419.3 224.0 419.3 224.0 419.2 224.0 419.2 224.0 419.2 224.0 419.2 224.0 419.2 223.9 419.2 224.0 419.1 224.0 419.1 224.1 419.0 224.2 418.9 224.3 418.9 224.4 418.8 224.6 418.7 224.7 418.6 224.9 418.6 225.0 418.5 225.1 418.5 225.3 418.4 225.4 418.4 225.5 418.4 225.7 418.4 225.8 418.4 226.0 418.4 226.1 418.4 226.3 418.5 226.4 418.5 226.5 418.5 226.7 418.6 226.8 418.6 226.8 418.6 226.9 418.6 226.9 418.7 227.0 418.7 227.0 418.7 227.1 418.8 227.2 418.8 227.3 418.9 227.3 419.0 227.4 419.1 227.5 419.2 227.6 419.3 227.7 419.4 228.1 419.6 228.5 419.6 228.9 419.4 229.1 419.0 229.1 418.6ZM224.8 420.5 224.6 420.5 224.5 420.5 224.3 420.5 224.1 420.5 223.9 420.5 223.7 420.5 223.5 420.5 223.2 420.5 223.0 420.6 222.7 420.6 222.5 420.7 222.2 420.9 222.0 421.0 221.7 421.2 221.5 421.3 221.3 421.5 221.1 421.7 220.9 421.9 220.7 422.1 220.6 422.3 220.4 422.5 220.3 422.7 220.2 423.0 220.1 423.3 220.1 423.7 220.1 424.0 220.2 424.3 220.3 424.6 220.4 424.9 220.6 425.1 220.7 425.3 220.9 425.5 221.0 425.6 221.2 425.8 221.4 425.9 221.6 426.0 221.8 426.1 222.0 426.2 222.2 426.3 222.4 426.4 222.6 426.4 222.8 426.5 223.0 426.5 223.3 426.6 223.5 426.6 223.7 426.6 223.9 426.6 224.2 426.6 224.4 426.6 224.6 426.6 224.9 426.5 225.2 426.5 225.4 426.5 225.7 426.4 225.9 426.4 226.2 426.3 226.4 426.3 226.6 426.2 226.9 426.1 227.1 426.1 227.3 426.0 227.5 425.9 227.7 425.8 227.8 425.7 228.0 425.6 228.1 425.5 228.3 425.4 228.4 425.3 228.5 425.2 228.6 425.1 228.7 425.1 228.8 425.0 229.1 424.7 229.2 424.3 229.1 423.9 228.8 423.6 228.4 423.5 228.0 423.6 227.8 423.7 227.7 423.8 227.6 423.9 227.4 423.9 227.3 424.0 227.2 424.1 227.1 424.1 227.0 424.2 226.9 424.2 226.8 424.3 226.7 424.3 226.5 424.3 226.4 424.4 226.2 424.4 226.0 424.5 225.8 424.5 225.6 424.5 225.4 424.6 225.1 424.6 224.9 424.6 224.7 424.6 224.6 424.6 224.4 424.6 224.2 424.6 224.1 424.6 224.0 424.5 223.9 424.5 223.7 424.4 223.6 424.4 223.5 424.3 223.5 424.3 223.4 424.2 223.3 424.2 223.3 424.1 223.2 424.0 223.2 424.0 223.2 423.9 223.2 423.9 223.2 423.8 223.2 423.7 223.2 423.7 223.2 423.7 223.2 423.6 223.2 423.6 223.2 423.6 223.3 423.7 223.3 423.8 223.3 423.9 223.3 423.9 223.3 423.9 223.3 423.8 223.3 423.8 223.3 423.7 223.3 423.5 223.4 423.4 223.4 423.3 223.5 423.2 223.5 423.1 223.6 423.0 223.6 422.9 223.6 422.9 223.7 422.8 223.7 422.8 223.8 422.7 224.0 422.6 224.1 422.6 224.3 422.5 224.4 422.4 224.6 422.4 224.8 422.3 225.0 422.2 225.2 422.1 225.6 421.9 225.8 421.5 225.8 421.1 225.6 420.7 225.2 420.5Z" fill="#000"/>
<path transform="matrix(0 -1 1 0 0 0)" d="M-269.1 8.0 -269.4 8.3 -269.4 8.9 -269.1 9.2 -268.7 9.2 -268.2 9.4 -267.7 10.1 -267.7 19.6 -268.2 20.3 -268.7 20.5 -269.1 20.5 -269.4 20.8 -269.4 21.4 -269.1 21.7 -268.7 21.7 -268.6 21.8 -264 21.8 -263.9 21.7 -263.5 21.7 -263.1 21.3 -263.1 20.9 -263.5 20.5 -263.9 20.5 -264.4 20.3 -264.8 19.7 -264.8 17.6 -264.6 17.5 -264 17.7 -262.8 17.7 -260.8 17.1 -259 15.4 -258.5 13.8 -258.5 11.7 -258.7 11.3 -258.9 10.4 -260.6 8.5 -262.1 8.0 -262.5 8.0 -262.6 7.9 -264.2 7.9 -264.3 8.0 -264.7 8.0 -265 8.2 -265.2 8.0 -265.6 8.0 -265.7 7.9 -268.6 7.9 -268.7 8.0ZM-263.6 9.3 -263.2 9.3 -262.3 9.8 -261.9 10.2 -261.9 10.5 -261.4 11.8 -261.4 13.7 -261.9 15.3 -262.2 15.7 -263.2 16.2 -263.7 16.2 -264.1 16.0 -264.4 15.7 -264.8 14.9 -264.8 10.6 -264.4 9.8ZM-240.5 2.0 -241 2.2 -242.1 3.4 -243.2 5.2 -243.2 5.4 -244.2 7.5 -244.3 8.6 -244.4 8.7 -244.5 9.7 -244.6 9.8 -244.6 13.6 -244.5 13.7 -244.5 14.2 -244.3 14.8 -244.2 15.9 -243.2 18.0 -243.2 18.2 -242.3 19.7 -241 21.2 -240.5 21.4 -239.9 21.4 -239.7 21.5 -239.6 21.4 -239 21.4 -238.5 21.2 -238.2 20.9 -238.2 20.4 -239.2 19.3 -239.7 18.2 -240 16.9 -240.2 16.5 -240.4 14.6 -240.5 14.5 -240.6 13.3 -240.7 13.2 -240.7 10.2 -240.6 10.1 -240.6 9.5 -240.4 8.8 -240.2 6.9 -240 6.5 -239.8 5.5 -239.2 4.1 -238.2 3.0 -238.2 2.5 -238.5 2.2 -239 2.0ZM-232.1 4.9 -233.6 6.5 -233.7 6.9 -234.1 7.6 -234.6 9.1 -234.6 13.3 -234.1 14.8 -233.7 15.5 -233.6 15.9 -232.1 17.5 -230.6 18.0 -230.2 18.0 -230.1 18.1 -228 18.1 -227.9 18.0 -227.5 18.0 -226.9 17.6 -226.4 17.6 -226 18.0 -225.6 18.0 -225.5 18.1 -224.8 18.0 -224.4 17.6 -224.4 14.0 -224.3 13.7 -223.9 13.4 -223.2 13.3 -222.8 12.9 -222.8 12.4 -223.2 12.0 -223.6 12.0 -223.7 11.9 -228.2 11.9 -228.3 12.0 -228.7 12.0 -229 12.3 -229 13.0 -228.7 13.3 -228 13.4 -227.5 13.8 -227.3 14.2 -227.3 15.8 -227.6 16.2 -228.6 16.7 -229.5 16.7 -230.1 16.4 -230.4 16.1 -231.3 14.5 -231.3 14.1 -231.7 12.8 -231.7 9.6 -231.6 9.5 -231.2 7.6 -230.5 6.6 -230.4 6.3 -230.1 6.0 -229.5 5.7 -228.6 5.7 -227.6 6.2 -226.8 7.1 -226.3 8.5 -226.3 8.8 -225.9 9.2 -225.5 9.2 -225.4 9.3 -225.3 9.2 -224.9 9.2 -224.4 8.7 -224.4 4.8 -224.8 4.4 -225.4 4.3 -225.5 4.4 -225.9 4.4 -226.3 4.8 -226.4 5.1 -227.5 4.4 -227.9 4.4 -228 4.3 -230.1 4.3ZM-217.3 9.0 -219.1 10.7 -219.6 12.1 -219.6 14.5 -219.1 15.9 -217.5 17.5 -216 18.0 -215.6 18.0 -215.5 18.1 -213.8 18.1 -211.8 17.5 -210.2 15.9 -210.2 15.4 -210.6 15.0 -211 15.0 -211.1 14.9 -211.2 15.0 -211.6 15.0 -212.8 16.2 -214.3 16.7 -214.9 16.7 -215.9 16.2 -216.1 16.0 -216.7 14.2 -216.7 13.6 -216.6 13.5 -211.1 13.5 -211 13.4 -210.6 13.4 -210.2 13.0 -210.2 11.2 -210.7 10.2 -211.8 9.1 -213.8 8.5 -215.5 8.5ZM-216.5 11.8 -216.1 10.6 -215.9 10.4 -214.9 9.9 -214.4 9.9 -213.8 10.2 -213.5 10.5 -213.1 11.3 -213.1 11.9 -213.2 12.0 -216.4 12.0ZM-207.8 4.4 -208.1 4.7 -208.1 5.3 -207.8 5.6 -207.2 5.7 -206.7 6.3 -206.3 7.2 -206.3 7.5 -205.8 9.1 -205.8 9.4 -205.1 11.3 -205.1 11.6 -204.4 13.2 -204.4 13.5 -203.9 14.8 -203.9 15.1 -203.2 17.0 -203.2 17.6 -202.8 17.9 -202.4 17.9 -202.3 18.0 -201.7 17.9 -201.2 17.5 -200.3 14.8 -200.3 14.5 -200.2 14.2 -200.2 13.9 -199.9 13.6 -199.8 13.0 -199.7 12.7 -199.7 12.4 -199.4 12.1 -199.4 11.8 -199.2 11.2 -199.2 10.9 -198.7 9.7 -198.7 9.4 -198.3 8.5 -198.2 8.2 -198.2 7.9 -197.6 6.1 -197.2 5.6 -196.8 5.6 -196.3 5.2 -196.3 4.8 -196.8 4.4 -197.2 4.4 -197.2 4.3 -200.7 4.3 -200.8 4.4 -201.2 4.4 -201.4 4.7 -201.4 5.3 -201.2 5.6 -199.8 5.7 -199.7 5.8 -199.4 6.1 -201.4 12.1 -201.7 12.3 -202.3 10.4 -202.3 10.1 -203.8 5.9 -203.6 5.7 -202.8 5.6 -202.4 5.2 -202.4 4.8 -202.8 4.4 -203.2 4.4 -203.3 4.3 -207.2 4.3 -207.3 4.4ZM-176.4 4.4 -176.8 4.4 -176.9 4.3 -178.7 4.3 -178.8 4.4 -179.2 4.4 -179.8 4.7 -180.8 5.6 -181.1 6.1 -181.1 6.4 -181.5 7.5 -181.5 8.3 -181.6 8.4 -182.7 8.5 -183 8.8 -183 9.4 -182.7 9.7 -181.6 9.8 -181.5 9.9 -181.5 15.9 -181.9 16.5 -182.3 16.7 -182.7 16.7 -183 17.0 -183 17.6 -182.7 17.9 -182.3 17.9 -182.2 18.0 -178 18.0 -177.9 17.9 -177.5 17.9 -177.1 17.5 -177.1 17.1 -177.5 16.7 -178.2 16.6 -178.7 15.9 -178.7 9.9 -178.6 9.8 -177 9.7 -176.6 9.3 -176.6 8.9 -177 8.5 -178.6 8.4 -178.7 8.3 -178.7 7.0 -178.5 6.7 -178.4 6.8 -178.4 7.1 -178.1 7.4 -177.7 7.4 -177.6 7.5 -176 7.4 -175.6 7.0 -175.6 5.3ZM-173.9 8.9 -173.9 9.5 -173.6 9.8 -173.2 9.8 -172.7 10.0 -172.3 10.6 -172.3 15.9 -172.7 16.5 -173.2 16.7 -173.6 16.7 -173.9 17.0 -173.9 17.6 -173.6 17.9 -173.2 17.9 -173.1 18.0 -168.6 18.0 -168.5 17.9 -168.1 17.9 -167.8 17.6 -167.5 17.9 -167.1 17.9 -167 18.0 -162.5 18.0 -162.4 17.9 -162 17.9 -161.7 17.6 -161.4 17.9 -161 17.9 -160.9 18.0 -156.4 18.0 -156.3 17.9 -155.9 17.9 -155.5 17.5 -155.5 17.1 -155.9 16.7 -156.3 16.7 -156.8 16.5 -157.1 16.0 -157.1 11.8 -157.6 10.3 -158.7 9.1 -159.6 8.6 -160 8.6 -160.1 8.5 -162.1 8.5 -162.2 8.6 -162.6 8.6 -163.6 9.1 -164.2 9.7 -164.8 9.1 -165.5 8.8 -165.7 8.6 -166.1 8.6 -166.2 8.5 -168.3 8.5 -168.4 8.6 -168.8 8.6 -169.4 9.0 -169.8 8.6 -170.2 8.6 -170.3 8.5 -173.1 8.5 -173.2 8.6 -173.6 8.6ZM-160.8 9.9 -160.5 10.3 -160 11.8 -160 15.8 -160.5 16.5 -161 16.7 -161.4 16.7 -161.7 17.0 -162 16.7 -162.4 16.7 -162.9 16.5 -163.2 16.1 -163.2 11.9 -163.3 11.8 -162.7 10.6 -162.4 10.3 -161.6 9.9ZM-166.9 9.9 -166.6 10.3 -166.6 10.6 -166.2 11.6 -166.2 16.0 -166.6 16.5 -167.1 16.7 -167.5 16.7 -167.8 17.0 -168.1 16.7 -168.5 16.7 -169 16.5 -169.4 15.9 -169.4 11.7 -168.9 10.7 -168.5 10.3 -167.7 9.9ZM-152.5 7.6 -152.4 8.2 -152.2 8.4 -151.9 8.4 -151.8 8.5 -146 8.5 -145.9 8.4 -145.6 8.4 -145.3 8.0 -145.4 7.4 -145.6 7.2 -145.9 7.2 -146 7.1 -151.8 7.1 -151.9 7.2 -152.2 7.2ZM-140.6 3.3 -142 3.8 -142.6 4.4 -142.9 5.0 -142.9 6.1 -142.5 6.6 -142.1 6.8 -141.4 6.9 -140.8 6.7 -140.7 6.8 -140.8 7.4 -140.6 7.7 -140 7.9 -139.5 7.9 -139.1 8.1 -138.9 8.3 -138.6 9.2 -138.6 9.9 -138.8 10.5 -139.1 10.8 -140.3 10.8 -140.4 10.7 -140.2 10.3 -140.2 9.5 -140.3 9.3 -140.8 8.8 -141.7 8.6 -142.5 8.9 -142.9 9.4 -142.9 10.5 -142.6 11.1 -142 11.7 -141.6 11.9 -140.6 12.2 -138.6 12.2 -137.2 11.7 -136.6 11.1 -136.3 10.5 -136.3 8.6 -136.6 8.0 -137.2 7.4 -136.6 6.4 -136.6 4.8 -137 4.0 -137.6 3.6 -138.6 3.3ZM-140.8 6.7 -140.7 6.6 -140.6 6.7 -140.7 6.8ZM-140.3 4.7 -139.4 4.7 -139 5.2 -139 6.0 -139.1 6.2 -139.5 6.5 -140 6.5 -140.6 6.7 -140.7 6.6 -140.2 6.0 -140.2 5.2 -140.4 4.9ZM-133.3 1.7 -133.4 1.8 -133.8 1.8 -134.1 2.1 -134.1 2.8 -132.9 3.9 -132.6 4.6 -132.3 5.0 -131.6 7.1 -131.3 9.3 -131.2 9.4 -131.2 9.9 -131.1 10.0 -131.1 13.5 -131.2 13.6 -131.2 14.1 -131.3 14.2 -131.3 14.7 -131.4 14.8 -131.4 15.3 -131.5 15.4 -131.5 15.9 -131.6 16.0 -131.7 16.8 -132 17.4 -132.3 18.5 -132.6 18.9 -132.9 19.6 -134.1 20.7 -134.1 21.4 -133.8 21.7 -133.2 21.8 -133.1 21.7 -132.7 21.7 -131.1 20.2 -130.7 19.5 -129.9 18.5 -129.2 17.0 -128.6 16.0 -128.6 15.6 -128.5 15.5 -128.5 15.1 -128.4 15.0 -128.4 14.6 -128.3 14.5 -128.3 14.1 -128.1 13.5 -128.1 10.0 -128.2 9.9 -128.6 7.5 -129.2 6.5 -129.9 5.0 -130.7 4.0 -131.1 3.3 -132.7 1.8Z" fill="#000"/>
<g transform="translate(124.5,216.5) rotate(-15)"><path d="M0.3 -8.4 0 -8.1 0 -7.5 0.3 -7.2 0.7 -7.2 1.5 -6.9 1.8 -6.4 1.8 2.4 1.5 2.9 1.1 3.1 0.3 3.2 0 3.5 0 4.1 0.3 4.4 0.7 4.4 0.8 4.5 5.8 4.5 5.9 4.4 6.3 4.4 6.7 4.0 6.7 3.6 6.3 3.2 5.9 3.2 5.2 3.0 4.8 2.4 4.8 0.5 4.9 0.4 5.2 0.6 5.6 0.6 5.7 0.7 7.1 0.7 7.2 0.6 7.6 0.6 8 0.4 8.3 0.4 9 0.1 9.3 0.1 11.1 -1.6 11.4 -2.6 11.6 -2.9 11.6 -4.9 11.1 -6.3 9.4 -7.9 7.3 -8.5 5.5 -8.5 5.4 -8.4 5 -8.4 4.7 -8.2 4.4 -8.4 4 -8.4 3.9 -8.5 0.8 -8.5 0.7 -8.4ZM6.1 -7.1 6.7 -7.1 7.7 -6.6 8.1 -6.2 8.3 -5.4 8.6 -4.8 8.6 -3.0 8.2 -2.2 8 -1.5 7.6 -1.2 6.7 -0.8 6 -0.8 5.4 -1.1 4.8 -2.0 4.8 -5.9 5.4 -6.8ZM14.8 -4.0 14.8 -3.3 15 -3.1 15.4 -3.1 15.5 -3.0 26.1 -3.0 26.2 -3.1 26.6 -3.1 26.8 -3.3 26.8 -4.0 26.6 -4.2 26.2 -4.2 26.1 -4.3 15.5 -4.3 15.4 -4.2 15 -4.2ZM14.8 -8.0 14.8 -7.3 15 -7.1 15.4 -7.1 15.5 -7.0 26.1 -7.0 26.2 -7.1 26.6 -7.1 26.8 -7.3 26.8 -8.0 26.6 -8.2 26.2 -8.2 26.1 -8.3 15.5 -8.3 15.4 -8.2 15 -8.2ZM54.9 -14.6 54.7 -14.7 53.3 -14.7 52.9 -14.3 51.3 -11.4 49.7 -8.9 49.5 -8.4 48.6 -7.0 48.4 -6.5 48.2 -6.2 48 -5.8 47.5 -5.1 46.9 -3.8 46.4 -3.2 45.4 -1.2 43 2.7 43 3.3 43.2 3.7 43.8 3.8 44.4 3.8 44.5 3.7 44.8 3.7 45.2 3.5 46.8 0.5 48.4 -2.1 48.6 -2.6 49.5 -4.0 49.7 -4.5 49.9 -4.7 50.1 -5.2 50.6 -5.8 51.2 -7.1 51.7 -7.8 52.7 -9.7 55.1 -13.7 55.1 -14.2ZM59.5 -11.6 58.4 -10.5 58.2 -10.0 58 -9.8 58 -8.4 58.9 -7.5 59.3 -7.5 59.4 -7.4 60.5 -7.5 61.6 -8.5 61.6 -9.5 60.8 -10.3 61.1 -10.5 61.4 -10.5 62.1 -10.8 63.4 -10.8 64.1 -10.5 64.5 -10.1 64.8 -9.5 64.8 -8.5 64.4 -7.8 63.6 -7.3 62 -7.2 61.7 -6.9 61.7 -6.2 62 -5.9 63.5 -5.8 64 -5.5 64.4 -5.4 64.9 -4.9 65 -4.4 65.4 -3.5 65.4 -2.4 65.1 -1.5 64.7 -0.9 64.1 -0.6 62.1 -0.6 61.4 -0.9 61.1 -0.9 60.8 -1.1 61.6 -1.9 61.6 -2.9 60.5 -3.9 60.1 -3.9 60 -4.0 58.9 -3.9 58 -3.0 58 -1.6 58.2 -1.4 58.4 -0.9 59.5 0.2 61.6 0.8 64.7 0.8 66.8 0.2 68 -1.0 68.2 -1.5 68.4 -1.7 68.4 -4.1 67.9 -5.0 66.5 -6.3 66.8 -6.4 67.2 -6.8 67.8 -7.9 67.8 -10.2 67.6 -10.4 67.3 -11.1 66.6 -11.7 66.3 -11.7 65.9 -11.9 65.6 -11.9 64.7 -12.2 61.6 -12.2Z" fill="#000"/>
</g>
<path d="M160.8 198.3 160.6 198.2 160.4 198.2 160.3 198.1 160.1 198.0 159.9 197.9 159.7 197.8 159.4 197.8 159.2 197.7 158.9 197.6 158.6 197.6 158.3 197.6 158.0 197.6 157.7 197.7 157.4 197.7 157.1 197.8 156.8 197.9 156.5 198.0 156.2 198.2 155.9 198.3 155.5 198.5 155.2 198.7 155.0 198.9 154.7 199.1 154.4 199.4 154.2 199.7 154.0 200.0 153.8 200.3 153.6 200.6 153.5 200.9 153.4 201.3 153.3 201.6 153.2 201.9 153.1 202.3 153.1 202.6 153.1 203.0 153.1 203.3 153.1 203.7 153.2 204.0 153.3 204.4 153.4 204.7 153.5 205.0 153.7 205.3 153.9 205.6 154.0 205.9 154.2 206.2 154.4 206.4 154.6 206.7 154.8 206.9 155.0 207.1 155.3 207.3 155.5 207.5 155.7 207.6 156.0 207.8 156.3 207.9 156.6 208.0 156.9 208.1 157.2 208.2 157.5 208.3 157.8 208.3 158.2 208.3 158.6 208.3 158.9 208.2 159.2 208.1 159.6 207.9 159.9 207.8 160.2 207.7 160.5 207.5 160.8 207.3 161.1 207.2 161.3 207.1 161.6 206.9 161.9 206.8 162.2 206.6 162.3 206.2 162.3 205.8 162.1 205.5 161.7 205.4 161.3 205.4 161.0 205.5 160.7 205.6 160.4 205.7 160.1 205.8 159.8 206.0 159.5 206.1 159.2 206.2 159.0 206.2 158.7 206.3 158.5 206.3 158.3 206.3 158.2 206.3 158.1 206.3 158.0 206.2 157.9 206.1 157.7 206.1 157.6 206.0 157.5 205.9 157.4 205.8 157.3 205.6 157.2 205.5 157.2 205.4 157.1 205.2 157.0 205.1 156.9 205.0 156.8 204.8 156.7 204.6 156.7 204.5 156.6 204.3 156.5 204.1 156.5 203.9 156.4 203.7 156.4 203.5 156.3 203.4 156.3 203.2 156.3 203.1 156.3 202.9 156.3 202.8 156.3 202.6 156.3 202.4 156.3 202.2 156.3 202.0 156.4 201.8 156.4 201.6 156.4 201.4 156.5 201.3 156.5 201.1 156.6 201.0 156.6 200.9 156.7 200.7 156.9 200.6 157.0 200.4 157.2 200.3 157.3 200.1 157.5 199.9 157.7 199.8 157.9 199.7 158.1 199.5 158.3 199.4 158.4 199.4 158.5 199.3 158.6 199.3 158.7 199.3 158.9 199.3 159.0 199.3 159.2 199.4 159.3 199.4 159.5 199.5 159.7 199.6 160.0 199.6 160.2 199.7 160.4 199.7 160.8 199.7 161.1 199.5 161.3 199.2 161.3 198.8 161.1 198.5ZM155.8 203.9 156.1 203.8 156.4 203.7 156.8 203.5 157.1 203.4 157.5 203.3 157.8 203.2 158.1 203.0 158.5 202.9 158.8 202.8 159.2 202.7 159.5 202.5 159.9 202.4 160.2 202.2 160.3 201.8 160.3 201.4 160.1 201.1 159.7 201.0 159.3 201.0 159.0 201.1 158.7 201.2 158.3 201.4 158.0 201.5 157.6 201.6 157.3 201.7 157.0 201.9 156.6 202.0 156.3 202.1 155.9 202.2 155.6 202.4 155.2 202.5 154.9 202.7 154.8 203.1 154.8 203.5 155.0 203.8 155.4 203.9Z" fill="#000"/>
</svg></body></html>
